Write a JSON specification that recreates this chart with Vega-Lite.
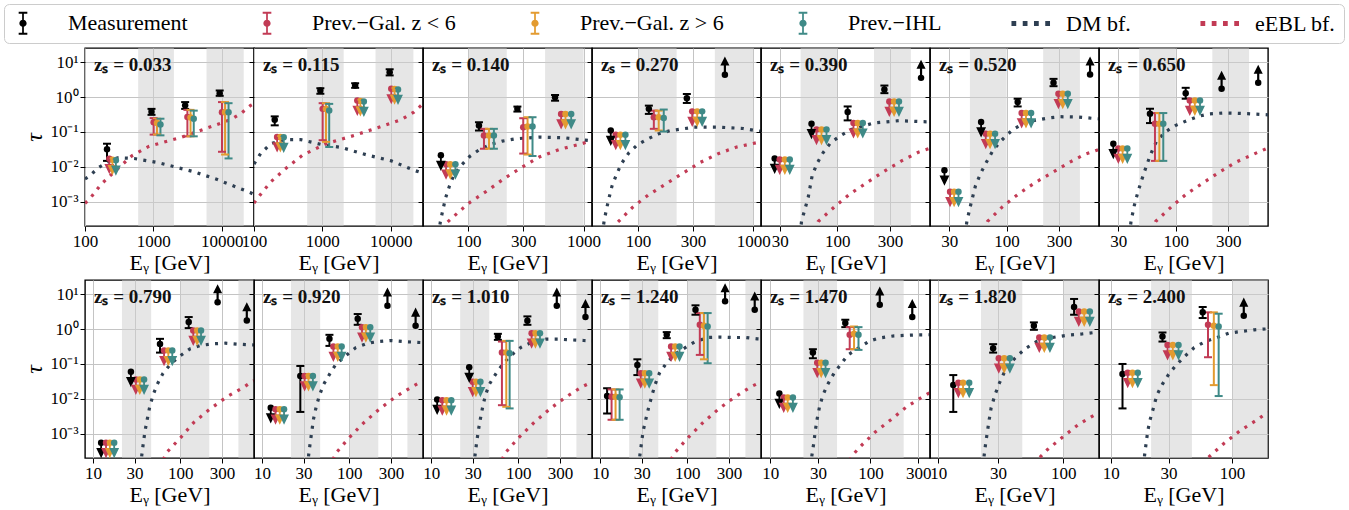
{
"$schema": "https://vega.github.io/schema/vega-lite/v6.json",
"background": "white",
"padding": {"left": 3, "top": 3, "right": 3, "bottom": 2},
"bounds": "flush",
"columns": 7,
"spacing": {"row": 54, "column": 0},
"data": {"values": [
{"p":1,"k":"b","E":600,"E2":2000},{"p":1,"k":"b","E":6000,"E2":21000},
{"p":1,"k":"c","s":"D","E":100,"t":0.0045},{"p":1,"k":"c","s":"D","E":116,"t":0.0054},{"p":1,"k":"c","s":"D","E":158,"t":0.0096},{"p":1,"k":"c","s":"D","E":240,"t":0.0155},{"p":1,"k":"c","s":"D","E":300,"t":0.0182},{"p":1,"k":"c","s":"D","E":525,"t":0.0173},{"p":1,"k":"c","s":"D","E":1150,"t":0.0133},{"p":1,"k":"c","s":"D","E":3950,"t":0.0072},{"p":1,"k":"c","s":"D","E":8650,"t":0.0043},{"p":1,"k":"c","s":"D","E":26500,"t":0.0018},{"p":1,"k":"c","s":"D","E":29700,"t":0.0016},
{"p":1,"k":"c","s":"B","E":100,"t":0.0009},{"p":1,"k":"c","s":"B","E":116,"t":0.00117},{"p":1,"k":"c","s":"B","E":171,"t":0.0031},{"p":1,"k":"c","s":"B","E":284,"t":0.008},{"p":1,"k":"c","s":"B","E":485,"t":0.0206},{"p":1,"k":"c","s":"B","E":869,"t":0.039},{"p":1,"k":"c","s":"B","E":2470,"t":0.069},{"p":1,"k":"c","s":"B","E":5830,"t":0.125},{"p":1,"k":"c","s":"B","E":13500,"t":0.225},{"p":1,"k":"c","s":"B","E":18900,"t":0.334},{"p":1,"k":"c","s":"B","E":26500,"t":0.578},{"p":1,"k":"c","s":"B","E":29700,"t":0.65},
{"p":1,"k":"m","s":"M","E":210,"t":0.032,"lo":0.0148,"hi":0.046},{"p":1,"k":"m","s":"R","E":227,"t":0.017,"lim":"u"},{"p":1,"k":"m","s":"O","E":252,"t":0.016,"lim":"u"},{"p":1,"k":"m","s":"T","E":283,"t":0.0155,"lim":"u"},
{"p":1,"k":"m","s":"M","E":940,"t":0.38,"lo":0.31,"hi":0.46},{"p":1,"k":"m","s":"R","E":1010,"t":0.19,"lo":0.084,"hi":0.25},{"p":1,"k":"m","s":"O","E":1130,"t":0.18,"lo":0.085,"hi":0.24},{"p":1,"k":"m","s":"T","E":1270,"t":0.165,"lo":0.08,"hi":0.24},
{"p":1,"k":"m","s":"M","E":2920,"t":0.58,"lo":0.46,"hi":0.72},{"p":1,"k":"m","s":"R","E":3150,"t":0.27,"lo":0.075,"hi":0.43},{"p":1,"k":"m","s":"O","E":3500,"t":0.26,"lo":0.075,"hi":0.43},{"p":1,"k":"m","s":"T","E":3900,"t":0.24,"lo":0.075,"hi":0.41},
{"p":1,"k":"m","s":"M","E":9350,"t":1.3,"lo":1.09,"hi":1.55},{"p":1,"k":"m","s":"R","E":10100,"t":0.37,"lo":0.027,"hi":0.72},{"p":1,"k":"m","s":"O","E":11200,"t":0.37,"lo":0.0225,"hi":0.72},{"p":1,"k":"m","s":"T","E":12600,"t":0.37,"lo":0.0174,"hi":0.67},
{"p":2,"k":"b","E":600,"E2":2050},{"p":2,"k":"b","E":6000,"E2":21500},
{"p":2,"k":"c","s":"D","E":100,"t":0.012},{"p":2,"k":"c","s":"D","E":125,"t":0.024},{"p":2,"k":"c","s":"D","E":176,"t":0.046},{"p":2,"k":"c","s":"D","E":276,"t":0.06},{"p":2,"k":"c","s":"D","E":485,"t":0.06},{"p":2,"k":"c","s":"D","E":955,"t":0.044},{"p":2,"k":"c","s":"D","E":1880,"t":0.036},{"p":2,"k":"c","s":"D","E":4640,"t":0.0215},{"p":2,"k":"c","s":"D","E":10200,"t":0.0148},{"p":2,"k":"c","s":"D","E":21800,"t":0.008},{"p":2,"k":"c","s":"D","E":29700,"t":0.0065},
{"p":2,"k":"c","s":"B","E":100,"t":0.0009},{"p":2,"k":"c","s":"B","E":109,"t":0.00117},{"p":2,"k":"c","s":"B","E":176,"t":0.0037},{"p":2,"k":"c","s":"B","E":292,"t":0.009},{"p":2,"k":"c","s":"B","E":514,"t":0.0216},{"p":2,"k":"c","s":"B","E":1130,"t":0.046},{"p":2,"k":"c","s":"B","E":2960,"t":0.08},{"p":2,"k":"c","s":"B","E":8150,"t":0.155},{"p":2,"k":"c","s":"B","E":14300,"t":0.225},{"p":2,"k":"c","s":"B","E":21800,"t":0.37},{"p":2,"k":"c","s":"B","E":29700,"t":0.645},
{"p":2,"k":"m","s":"M","E":201,"t":0.225,"lo":0.155,"hi":0.28},{"p":2,"k":"m","s":"R","E":218,"t":0.072,"lim":"u"},{"p":2,"k":"m","s":"O","E":243,"t":0.072,"lim":"u"},{"p":2,"k":"m","s":"T","E":272,"t":0.07,"lim":"u"},
{"p":2,"k":"m","s":"M","E":935,"t":1.55,"lo":1.25,"hi":1.8},{"p":2,"k":"m","s":"R","E":1010,"t":0.46,"lo":0.058,"hi":0.67},{"p":2,"k":"m","s":"O","E":1130,"t":0.46,"lo":0.052,"hi":0.67},{"p":2,"k":"m","s":"T","E":1260,"t":0.415,"lo":0.037,"hi":0.64},
{"p":2,"k":"m","s":"M","E":3020,"t":2.15,"lo":1.85,"hi":2.5},{"p":2,"k":"m","s":"R","E":3250,"t":0.8,"lim":"u"},{"p":2,"k":"m","s":"O","E":3600,"t":0.78,"lim":"u"},{"p":2,"k":"m","s":"T","E":4050,"t":0.75,"lim":"u"},
{"p":2,"k":"m","s":"M","E":9660,"t":5.2,"lo":4.2,"hi":6.3},{"p":2,"k":"m","s":"R","E":10200,"t":1.73,"lim":"u"},{"p":2,"k":"m","s":"O","E":11400,"t":1.7,"lim":"u"},{"p":2,"k":"m","s":"T","E":12800,"t":1.65,"lim":"u"},
{"p":3,"k":"b","E":100,"E2":216},{"p":3,"k":"b","E":464,"E2":1000},
{"p":3,"k":"c","s":"D","E":55.5,"t":0.00012},{"p":3,"k":"c","s":"D","E":57.4,"t":0.000265},{"p":3,"k":"c","s":"D","E":60.5,"t":0.0006},{"p":3,"k":"c","s":"D","E":63.8,"t":0.0013},{"p":3,"k":"c","s":"D","E":68.7,"t":0.00277},{"p":3,"k":"c","s":"D","E":75,"t":0.0057},{"p":3,"k":"c","s":"D","E":86.9,"t":0.011},{"p":3,"k":"c","s":"D","E":103.4,"t":0.02},{"p":3,"k":"c","s":"D","E":126,"t":0.0316},{"p":3,"k":"c","s":"D","E":157,"t":0.044},{"p":3,"k":"c","s":"D","E":198,"t":0.0547},{"p":3,"k":"c","s":"D","E":259,"t":0.0638},{"p":3,"k":"c","s":"D","E":413,"t":0.0711},{"p":3,"k":"c","s":"D","E":683,"t":0.068},{"p":3,"k":"c","s":"D","E":1090,"t":0.0572},{"p":3,"k":"c","s":"D","E":1183,"t":0.055},
{"p":3,"k":"c","s":"B","E":62,"t":0.00015},{"p":3,"k":"c","s":"B","E":65.6,"t":0.000254},{"p":3,"k":"c","s":"B","E":89.8,"t":0.00064},{"p":3,"k":"c","s":"B","E":105,"t":0.00099},{"p":3,"k":"c","s":"B","E":146,"t":0.00204},{"p":3,"k":"c","s":"B","E":205,"t":0.0046},{"p":3,"k":"c","s":"B","E":286,"t":0.0093},{"p":3,"k":"c","s":"B","E":413,"t":0.0191},{"p":3,"k":"c","s":"B","E":618,"t":0.0316},{"p":3,"k":"c","s":"B","E":893,"t":0.043},{"p":3,"k":"c","s":"B","E":1183,"t":0.056},
{"p":3,"k":"m","s":"M","E":58,"t":0.0213,"lim":"u"},{"p":3,"k":"m","s":"R","E":64.3,"t":0.0118,"lim":"u"},{"p":3,"k":"m","s":"O","E":70,"t":0.0118,"lim":"u"},{"p":3,"k":"m","s":"T","E":77.5,"t":0.0118,"lim":"u"},
{"p":3,"k":"m","s":"M","E":124,"t":0.153,"lo":0.11,"hi":0.19},{"p":3,"k":"m","s":"R","E":137,"t":0.079,"lo":0.033,"hi":0.123},{"p":3,"k":"m","s":"O","E":151.5,"t":0.079,"lo":0.033,"hi":0.123},{"p":3,"k":"m","s":"T","E":167,"t":0.079,"lo":0.033,"hi":0.123},
{"p":3,"k":"m","s":"M","E":267,"t":0.46,"lo":0.385,"hi":0.535},{"p":3,"k":"m","s":"R","E":300,"t":0.137,"lo":0.024,"hi":0.248},{"p":3,"k":"m","s":"O","E":327,"t":0.143,"lo":0.0225,"hi":0.265},{"p":3,"k":"m","s":"T","E":361,"t":0.143,"lo":0.0204,"hi":0.265},
{"p":3,"k":"m","s":"M","E":566,"t":0.99,"lo":0.79,"hi":1.15},{"p":3,"k":"m","s":"R","E":639,"t":0.33,"lim":"u"},{"p":3,"k":"m","s":"O","E":697,"t":0.33,"lim":"u"},{"p":3,"k":"m","s":"T","E":781,"t":0.33,"lim":"u"},
{"p":4,"k":"b","E":100,"E2":216},{"p":4,"k":"b","E":464,"E2":1000},
{"p":4,"k":"c","s":"D","E":49,"t":0.00012},{"p":4,"k":"c","s":"D","E":50.6,"t":0.000265},{"p":4,"k":"c","s":"D","E":53.1,"t":0.0006},{"p":4,"k":"c","s":"D","E":56,"t":0.0013},{"p":4,"k":"c","s":"D","E":59.4,"t":0.00283},{"p":4,"k":"c","s":"D","E":64.9,"t":0.006},{"p":4,"k":"c","s":"D","E":71.6,"t":0.0123},{"p":4,"k":"c","s":"D","E":82.9,"t":0.0248},{"p":4,"k":"c","s":"D","E":98.7,"t":0.043},{"p":4,"k":"c","s":"D","E":122,"t":0.0638},{"p":4,"k":"c","s":"D","E":151,"t":0.0887},{"p":4,"k":"c","s":"D","E":192,"t":0.11},{"p":4,"k":"c","s":"D","E":307,"t":0.137},{"p":4,"k":"c","s":"D","E":506,"t":0.137},{"p":4,"k":"c","s":"D","E":818,"t":0.126},{"p":4,"k":"c","s":"D","E":1033,"t":0.11},{"p":4,"k":"c","s":"D","E":1167,"t":0.105},
{"p":4,"k":"c","s":"B","E":62,"t":0.00015},{"p":4,"k":"c","s":"B","E":66.1,"t":0.00025},{"p":4,"k":"c","s":"B","E":89.3,"t":0.00068},{"p":4,"k":"c","s":"B","E":122,"t":0.00153},{"p":4,"k":"c","s":"B","E":171,"t":0.0031},{"p":4,"k":"c","s":"B","E":242,"t":0.0064},{"p":4,"k":"c","s":"B","E":344,"t":0.0132},{"p":4,"k":"c","s":"B","E":496,"t":0.0238},{"p":4,"k":"c","s":"B","E":717,"t":0.0369},{"p":4,"k":"c","s":"B","E":1069,"t":0.049},{"p":4,"k":"c","s":"B","E":1167,"t":0.053},
{"p":4,"k":"m","s":"M","E":57.9,"t":0.11,"lim":"u"},{"p":4,"k":"m","s":"R","E":64,"t":0.083,"lim":"u"},{"p":4,"k":"m","s":"O","E":70.2,"t":0.083,"lim":"u"},{"p":4,"k":"m","s":"T","E":77.6,"t":0.083,"lim":"u"},
{"p":4,"k":"m","s":"M","E":124,"t":0.46,"lo":0.33,"hi":0.57},{"p":4,"k":"m","s":"R","E":137,"t":0.265,"lo":0.123,"hi":0.41},{"p":4,"k":"m","s":"O","E":151,"t":0.265,"lo":0.11,"hi":0.41},{"p":4,"k":"m","s":"T","E":167,"t":0.25,"lo":0.103,"hi":0.44},
{"p":4,"k":"m","s":"M","E":265,"t":0.926,"lo":0.68,"hi":1.23},{"p":4,"k":"m","s":"R","E":295,"t":0.39,"lim":"u"},{"p":4,"k":"m","s":"O","E":326,"t":0.39,"lim":"u"},{"p":4,"k":"m","s":"T","E":360,"t":0.39,"lim":"u"},
{"p":4,"k":"m","s":"M","E":567,"t":4.4,"lim":"l"},
{"p":5,"k":"b","E":46.4,"E2":100},{"p":5,"k":"b","E":215,"E2":464},
{"p":5,"k":"c","s":"D","E":46,"t":0.00012},{"p":5,"k":"c","s":"D","E":47.3,"t":0.00027},{"p":5,"k":"c","s":"D","E":54.4,"t":0.00133},{"p":5,"k":"c","s":"D","E":59.2,"t":0.00578},{"p":5,"k":"c","s":"D","E":66.1,"t":0.0133},{"p":5,"k":"c","s":"D","E":74.4,"t":0.0257},{"p":5,"k":"c","s":"D","E":87.3,"t":0.0496},{"p":5,"k":"c","s":"D","E":108,"t":0.08},{"p":5,"k":"c","s":"D","E":133,"t":0.117},{"p":5,"k":"c","s":"D","E":212,"t":0.18},{"p":5,"k":"c","s":"D","E":362,"t":0.211},{"p":5,"k":"c","s":"D","E":604,"t":0.197},{"p":5,"k":"c","s":"D","E":692,"t":0.195},
{"p":5,"k":"c","s":"B","E":62,"t":0.00015},{"p":5,"k":"c","s":"B","E":67,"t":0.00027},{"p":5,"k":"c","s":"B","E":94.8,"t":0.00072},{"p":5,"k":"c","s":"B","E":130,"t":0.00166},{"p":5,"k":"c","s":"B","E":185,"t":0.0035},{"p":5,"k":"c","s":"B","E":261,"t":0.0072},{"p":5,"k":"c","s":"B","E":378,"t":0.0145},{"p":5,"k":"c","s":"B","E":551,"t":0.0268},{"p":5,"k":"c","s":"B","E":692,"t":0.034},
{"p":5,"k":"m","s":"M","E":27,"t":0.0173,"lim":"u"},{"p":5,"k":"m","s":"R","E":30,"t":0.0162,"lim":"u"},{"p":5,"k":"m","s":"O","E":33.4,"t":0.0162,"lim":"u"},{"p":5,"k":"m","s":"T","E":37,"t":0.0162,"lim":"u"},
{"p":5,"k":"m","s":"M","E":58.3,"t":0.173,"lim":"u"},{"p":5,"k":"m","s":"R","E":64.7,"t":0.117,"lim":"u"},{"p":5,"k":"m","s":"O","E":71.8,"t":0.117,"lim":"u"},{"p":5,"k":"m","s":"T","E":79.7,"t":0.117,"lim":"u"},
{"p":5,"k":"m","s":"M","E":124,"t":0.373,"lo":0.215,"hi":0.54},{"p":5,"k":"m","s":"R","E":140,"t":0.18,"lim":"u"},{"p":5,"k":"m","s":"O","E":153,"t":0.18,"lim":"u"},{"p":5,"k":"m","s":"T","E":170,"t":0.18,"lim":"u"},
{"p":5,"k":"m","s":"M","E":267,"t":1.66,"lo":1.3,"hi":2.15},{"p":5,"k":"m","s":"R","E":296,"t":0.75,"lim":"u"},{"p":5,"k":"m","s":"O","E":327,"t":0.75,"lim":"u"},{"p":5,"k":"m","s":"T","E":362,"t":0.75,"lim":"u"},
{"p":5,"k":"m","s":"M","E":574,"t":3.57,"lim":"l"},
{"p":6,"k":"b","E":46.4,"E2":100},{"p":6,"k":"b","E":215,"E2":464},
{"p":6,"k":"c","s":"D","E":42,"t":0.00012},{"p":6,"k":"c","s":"D","E":43.5,"t":0.00027},{"p":6,"k":"c","s":"D","E":47.5,"t":0.0009},{"p":6,"k":"c","s":"D","E":52,"t":0.0028},{"p":6,"k":"c","s":"D","E":58,"t":0.0065},{"p":6,"k":"c","s":"D","E":65,"t":0.013},{"p":6,"k":"c","s":"D","E":74,"t":0.027},{"p":6,"k":"c","s":"D","E":86,"t":0.05},{"p":6,"k":"c","s":"D","E":100,"t":0.08},{"p":6,"k":"c","s":"D","E":115,"t":0.12},{"p":6,"k":"c","s":"D","E":140,"t":0.17},{"p":6,"k":"c","s":"D","E":175,"t":0.21},{"p":6,"k":"c","s":"D","E":237,"t":0.251},{"p":6,"k":"c","s":"D","E":306,"t":0.274},{"p":6,"k":"c","s":"D","E":450,"t":0.268},{"p":6,"k":"c","s":"D","E":661,"t":0.24},{"p":6,"k":"c","s":"D","E":692,"t":0.238},
{"p":6,"k":"c","s":"B","E":62,"t":0.00015},{"p":6,"k":"c","s":"B","E":67,"t":0.00027},{"p":6,"k":"c","s":"B","E":92,"t":0.00072},{"p":6,"k":"c","s":"B","E":128,"t":0.00166},{"p":6,"k":"c","s":"B","E":181,"t":0.0035},{"p":6,"k":"c","s":"B","E":257,"t":0.0067},{"p":6,"k":"c","s":"B","E":365,"t":0.013},{"p":6,"k":"c","s":"B","E":517,"t":0.023},{"p":6,"k":"c","s":"B","E":661,"t":0.03},{"p":6,"k":"c","s":"B","E":692,"t":0.032},
{"p":6,"k":"m","s":"M","E":27.2,"t":0.008,"lim":"u"},{"p":6,"k":"m","s":"R","E":30.6,"t":0.00193,"lim":"u"},{"p":6,"k":"m","s":"O","E":33.3,"t":0.00193,"lim":"u"},{"p":6,"k":"m","s":"T","E":36.5,"t":0.00193,"lim":"u"},
{"p":6,"k":"m","s":"M","E":58.6,"t":0.193,"lim":"u"},{"p":6,"k":"m","s":"R","E":64.6,"t":0.0896,"lim":"u"},{"p":6,"k":"m","s":"O","E":70.7,"t":0.0896,"lim":"u"},{"p":6,"k":"m","s":"T","E":78.5,"t":0.0896,"lim":"u"},
{"p":6,"k":"m","s":"M","E":126,"t":0.72,"lo":0.54,"hi":0.9},{"p":6,"k":"m","s":"R","E":137,"t":0.35,"lim":"u"},{"p":6,"k":"m","s":"O","E":150,"t":0.35,"lim":"u"},{"p":6,"k":"m","s":"T","E":167,"t":0.35,"lim":"u"},
{"p":6,"k":"m","s":"M","E":267,"t":2.57,"lo":2.06,"hi":3.34},{"p":6,"k":"m","s":"R","E":296,"t":1.245,"lim":"u"},{"p":6,"k":"m","s":"O","E":324,"t":1.245,"lim":"u"},{"p":6,"k":"m","s":"T","E":360,"t":1.245,"lim":"u"},
{"p":6,"k":"m","s":"M","E":574,"t":4.44,"lim":"l"},
{"p":7,"k":"b","E":46.4,"E2":100},{"p":7,"k":"b","E":215,"E2":464},
{"p":7,"k":"c","s":"D","E":38,"t":0.00012},{"p":7,"k":"c","s":"D","E":39.1,"t":0.00027},{"p":7,"k":"c","s":"D","E":42,"t":0.0008},{"p":7,"k":"c","s":"D","E":45,"t":0.0018},{"p":7,"k":"c","s":"D","E":48,"t":0.0035},{"p":7,"k":"c","s":"D","E":52,"t":0.0075},{"p":7,"k":"c","s":"D","E":57,"t":0.017},{"p":7,"k":"c","s":"D","E":62,"t":0.033},{"p":7,"k":"c","s":"D","E":67,"t":0.055},{"p":7,"k":"c","s":"D","E":80,"t":0.1},{"p":7,"k":"c","s":"D","E":100,"t":0.155},{"p":7,"k":"c","s":"D","E":130,"t":0.22},{"p":7,"k":"c","s":"D","E":160,"t":0.28},{"p":7,"k":"c","s":"D","E":200,"t":0.33},{"p":7,"k":"c","s":"D","E":267,"t":0.35},{"p":7,"k":"c","s":"D","E":350,"t":0.345},{"p":7,"k":"c","s":"D","E":450,"t":0.334},{"p":7,"k":"c","s":"D","E":690,"t":0.31},
{"p":7,"k":"c","s":"B","E":60,"t":0.00015},{"p":7,"k":"c","s":"B","E":65.5,"t":0.00027},{"p":7,"k":"c","s":"B","E":91.6,"t":0.00072},{"p":7,"k":"c","s":"B","E":125,"t":0.00166},{"p":7,"k":"c","s":"B","E":178,"t":0.0035},{"p":7,"k":"c","s":"B","E":252,"t":0.0072},{"p":7,"k":"c","s":"B","E":357,"t":0.0139},{"p":7,"k":"c","s":"B","E":543,"t":0.0251},{"p":7,"k":"c","s":"B","E":670,"t":0.0334},{"p":7,"k":"c","s":"B","E":690,"t":0.035},
{"p":7,"k":"m","s":"M","E":27,"t":0.046,"lim":"u"},{"p":7,"k":"m","s":"R","E":30,"t":0.0334,"lim":"u"},{"p":7,"k":"m","s":"O","E":32.8,"t":0.0334,"lim":"u"},{"p":7,"k":"m","s":"T","E":36.2,"t":0.0334,"lim":"u"},
{"p":7,"k":"m","s":"M","E":58.2,"t":0.334,"lo":0.18,"hi":0.464},{"p":7,"k":"m","s":"R","E":64.6,"t":0.173,"lo":0.0148,"hi":0.349},{"p":7,"k":"m","s":"O","E":70.8,"t":0.173,"lo":0.0148,"hi":0.349},{"p":7,"k":"m","s":"T","E":76.9,"t":0.173,"lo":0.0148,"hi":0.349},
{"p":7,"k":"m","s":"M","E":123,"t":1.3,"lo":0.9,"hi":1.85},{"p":7,"k":"m","s":"R","E":134,"t":0.8,"lim":"u"},{"p":7,"k":"m","s":"O","E":149,"t":0.8,"lim":"u"},{"p":7,"k":"m","s":"T","E":166,"t":0.8,"lim":"u"},
{"p":7,"k":"m","s":"M","E":261,"t":1.73,"lim":"l"},{"p":7,"k":"m","s":"M","E":562,"t":2.57,"lim":"l"},
{"p":8,"k":"b","E":21.5,"E2":46.4},{"p":8,"k":"b","E":100,"E2":215},{"p":8,"k":"b","E":464,"E2":1000},
{"p":8,"k":"c","s":"D","E":35.5,"t":0.00012},{"p":8,"k":"c","s":"D","E":36.2,"t":0.000237},{"p":8,"k":"c","s":"D","E":37.8,"t":0.00055},{"p":8,"k":"c","s":"D","E":39.5,"t":0.0012},{"p":8,"k":"c","s":"D","E":42,"t":0.0027},{"p":8,"k":"c","s":"D","E":44.7,"t":0.0059},{"p":8,"k":"c","s":"D","E":48.8,"t":0.0128},{"p":8,"k":"c","s":"D","E":54.7,"t":0.0265},{"p":8,"k":"c","s":"D","E":63.4,"t":0.0538},{"p":8,"k":"c","s":"D","E":77.6,"t":0.1},{"p":8,"k":"c","s":"D","E":101,"t":0.174},{"p":8,"k":"c","s":"D","E":129,"t":0.271},{"p":8,"k":"c","s":"D","E":170,"t":0.338},{"p":8,"k":"c","s":"D","E":235,"t":0.378},{"p":8,"k":"c","s":"D","E":328,"t":0.395},{"p":8,"k":"c","s":"D","E":453,"t":0.37},{"p":8,"k":"c","s":"D","E":631,"t":0.353},{"p":8,"k":"c","s":"D","E":700,"t":0.35},
{"p":8,"k":"c","s":"B","E":64,"t":0.00018},{"p":8,"k":"c","s":"B","E":69.2,"t":0.00028},{"p":8,"k":"c","s":"B","E":101,"t":0.00077},{"p":8,"k":"c","s":"B","E":143,"t":0.0021},{"p":8,"k":"c","s":"B","E":217,"t":0.005},{"p":8,"k":"c","s":"B","E":342,"t":0.0114},{"p":8,"k":"c","s":"B","E":530,"t":0.0212},{"p":8,"k":"c","s":"B","E":659,"t":0.031},{"p":8,"k":"c","s":"B","E":700,"t":0.033},
{"p":8,"k":"m","s":"M","E":12.4,"t":0.00055,"lim":"u"},{"p":8,"k":"m","s":"R","E":14.1,"t":0.00055,"lim":"u"},{"p":8,"k":"m","s":"O","E":15.6,"t":0.00055,"lim":"u"},{"p":8,"k":"m","s":"T","E":17.5,"t":0.00055,"lim":"u"},
{"p":8,"k":"m","s":"M","E":27.2,"t":0.06,"lim":"u"},{"p":8,"k":"m","s":"R","E":31,"t":0.036,"lim":"u"},{"p":8,"k":"m","s":"O","E":34.4,"t":0.036,"lim":"u"},{"p":8,"k":"m","s":"T","E":38.5,"t":0.036,"lim":"u"},
{"p":8,"k":"m","s":"M","E":58.6,"t":0.377,"lo":0.212,"hi":0.526},{"p":8,"k":"m","s":"R","E":65.2,"t":0.242,"lim":"u"},{"p":8,"k":"m","s":"O","E":73,"t":0.242,"lim":"u"},{"p":8,"k":"m","s":"T","E":81,"t":0.242,"lim":"u"},
{"p":8,"k":"m","s":"M","E":125,"t":1.59,"lo":1.07,"hi":2.22},{"p":8,"k":"m","s":"R","E":141,"t":0.915,"lim":"u"},{"p":8,"k":"m","s":"O","E":156,"t":0.915,"lim":"u"},{"p":8,"k":"m","s":"T","E":173,"t":0.915,"lim":"u"},
{"p":8,"k":"m","s":"M","E":268,"t":5.88,"lim":"l"},{"p":8,"k":"m","s":"M","E":579,"t":1.78,"lim":"l"},
{"p":9,"k":"b","E":21.5,"E2":46.4},{"p":9,"k":"b","E":100,"E2":215},{"p":9,"k":"b","E":464,"E2":1000},
{"p":9,"k":"c","s":"D","E":33.5,"t":0.00012},{"p":9,"k":"c","s":"D","E":34.2,"t":0.000237},{"p":9,"k":"c","s":"D","E":35.7,"t":0.00055},{"p":9,"k":"c","s":"D","E":37.3,"t":0.0012},{"p":9,"k":"c","s":"D","E":38.9,"t":0.0026},{"p":9,"k":"c","s":"D","E":41.8,"t":0.0059},{"p":9,"k":"c","s":"D","E":45.6,"t":0.0128},{"p":9,"k":"c","s":"D","E":51.1,"t":0.0265},{"p":9,"k":"c","s":"D","E":60.3,"t":0.0538},{"p":9,"k":"c","s":"D","E":70.6,"t":0.1},{"p":9,"k":"c","s":"D","E":91.8,"t":0.174},{"p":9,"k":"c","s":"D","E":119,"t":0.296},{"p":9,"k":"c","s":"D","E":162,"t":0.395},{"p":9,"k":"c","s":"D","E":220,"t":0.44},{"p":9,"k":"c","s":"D","E":299,"t":0.471},{"p":9,"k":"c","s":"D","E":416,"t":0.44},{"p":9,"k":"c","s":"D","E":575,"t":0.42},{"p":9,"k":"c","s":"D","E":700,"t":0.41},
{"p":9,"k":"c","s":"B","E":65,"t":0.00018},{"p":9,"k":"c","s":"B","E":70.6,"t":0.00028},{"p":9,"k":"c","s":"B","E":100,"t":0.00077},{"p":9,"k":"c","s":"B","E":148,"t":0.0021},{"p":9,"k":"c","s":"B","E":220,"t":0.005},{"p":9,"k":"c","s":"B","E":340,"t":0.0114},{"p":9,"k":"c","s":"B","E":541,"t":0.0232},{"p":9,"k":"c","s":"B","E":667,"t":0.031},{"p":9,"k":"c","s":"B","E":700,"t":0.032},
{"p":9,"k":"m","s":"M","E":12.6,"t":0.0055,"lim":"u"},{"p":9,"k":"m","s":"R","E":14.3,"t":0.005,"lim":"u"},{"p":9,"k":"m","s":"O","E":16,"t":0.005,"lim":"u"},{"p":9,"k":"m","s":"T","E":17.9,"t":0.005,"lim":"u"},
{"p":9,"k":"m","s":"M","E":27.5,"t":0.045,"lo":0.0042,"hi":0.0876},{"p":9,"k":"m","s":"R","E":30.8,"t":0.045,"lim":"u"},{"p":9,"k":"m","s":"O","E":34.1,"t":0.045,"lim":"u"},{"p":9,"k":"m","s":"T","E":38.3,"t":0.045,"lim":"u"},
{"p":9,"k":"m","s":"M","E":59.3,"t":0.526,"lo":0.33,"hi":0.686},{"p":9,"k":"m","s":"R","E":65.8,"t":0.316,"lim":"u"},{"p":9,"k":"m","s":"O","E":73.8,"t":0.316,"lim":"u"},{"p":9,"k":"m","s":"T","E":81.8,"t":0.316,"lim":"u"},
{"p":9,"k":"m","s":"M","E":125,"t":1.99,"lo":1.33,"hi":2.71},{"p":9,"k":"m","s":"R","E":140,"t":1.14,"lim":"u"},{"p":9,"k":"m","s":"O","E":155,"t":1.14,"lim":"u"},{"p":9,"k":"m","s":"T","E":174,"t":1.14,"lim":"u"},
{"p":9,"k":"m","s":"M","E":274,"t":4.7,"lim":"l"},{"p":9,"k":"m","s":"M","E":576,"t":1.25,"lim":"l"},
{"p":10,"k":"b","E":21.5,"E2":46.4},{"p":10,"k":"b","E":100,"E2":215},{"p":10,"k":"b","E":464,"E2":1000},
{"p":10,"k":"c","s":"D","E":31,"t":0.00012},{"p":10,"k":"c","s":"D","E":31.8,"t":0.000237},{"p":10,"k":"c","s":"D","E":33.2,"t":0.00055},{"p":10,"k":"c","s":"D","E":34.7,"t":0.0012},{"p":10,"k":"c","s":"D","E":36.6,"t":0.0026},{"p":10,"k":"c","s":"D","E":39,"t":0.0059},{"p":10,"k":"c","s":"D","E":41.9,"t":0.0128},{"p":10,"k":"c","s":"D","E":46.6,"t":0.0265},{"p":10,"k":"c","s":"D","E":55.6,"t":0.0538},{"p":10,"k":"c","s":"D","E":66.5,"t":0.1},{"p":10,"k":"c","s":"D","E":81.6,"t":0.174},{"p":10,"k":"c","s":"D","E":108,"t":0.303},{"p":10,"k":"c","s":"D","E":148,"t":0.44},{"p":10,"k":"c","s":"D","E":206,"t":0.515},{"p":10,"k":"c","s":"D","E":289,"t":0.515},{"p":10,"k":"c","s":"D","E":406,"t":0.49},{"p":10,"k":"c","s":"D","E":564,"t":0.471},{"p":10,"k":"c","s":"D","E":700,"t":0.46},
{"p":10,"k":"c","s":"B","E":65,"t":0.00018},{"p":10,"k":"c","s":"B","E":70.7,"t":0.00028},{"p":10,"k":"c","s":"B","E":101,"t":0.00077},{"p":10,"k":"c","s":"B","E":152,"t":0.0021},{"p":10,"k":"c","s":"B","E":227,"t":0.005},{"p":10,"k":"c","s":"B","E":345,"t":0.0109},{"p":10,"k":"c","s":"B","E":539,"t":0.0222},{"p":10,"k":"c","s":"B","E":673,"t":0.029},{"p":10,"k":"c","s":"B","E":700,"t":0.031},
{"p":10,"k":"m","s":"M","E":11.7,"t":0.0096,"lim":"u"},{"p":10,"k":"m","s":"R","E":13.4,"t":0.0091,"lim":"u"},{"p":10,"k":"m","s":"O","E":15,"t":0.0091,"lim":"u"},{"p":10,"k":"m","s":"T","E":17,"t":0.0091,"lim":"u"},
{"p":10,"k":"m","s":"M","E":27.3,"t":0.08,"lim":"u"},{"p":10,"k":"m","s":"R","E":29.9,"t":0.031,"lim":"u"},{"p":10,"k":"m","s":"O","E":32.6,"t":0.031,"lim":"u"},{"p":10,"k":"m","s":"T","E":36.7,"t":0.031,"lim":"u"},
{"p":10,"k":"m","s":"M","E":58.2,"t":0.615,"lo":0.492,"hi":0.733},{"p":10,"k":"m","s":"R","E":64.8,"t":0.212,"lo":0.00656,"hi":0.44},{"p":10,"k":"m","s":"O","E":72.7,"t":0.212,"lo":0.0059,"hi":0.46},{"p":10,"k":"m","s":"T","E":79.4,"t":0.203,"lo":0.0053,"hi":0.46},
{"p":10,"k":"m","s":"M","E":127,"t":1.74,"lo":1.33,"hi":2.32},{"p":10,"k":"m","s":"R","E":142,"t":0.767,"lim":"u"},{"p":10,"k":"m","s":"O","E":157,"t":0.767,"lim":"u"},{"p":10,"k":"m","s":"T","E":177,"t":0.767,"lim":"u"},
{"p":10,"k":"m","s":"M","E":276,"t":4.7,"lim":"l"},{"p":10,"k":"m","s":"M","E":589,"t":2.22,"lim":"l"},
{"p":11,"k":"b","E":21.5,"E2":46.4},{"p":11,"k":"b","E":100,"E2":215},{"p":11,"k":"b","E":464,"E2":1000},
{"p":11,"k":"c","s":"D","E":28,"t":0.00012},{"p":11,"k":"c","s":"D","E":28.5,"t":0.000237},{"p":11,"k":"c","s":"D","E":29.8,"t":0.00055},{"p":11,"k":"c","s":"D","E":31.1,"t":0.0012},{"p":11,"k":"c","s":"D","E":33.4,"t":0.0026},{"p":11,"k":"c","s":"D","E":35.9,"t":0.0055},{"p":11,"k":"c","s":"D","E":39.3,"t":0.0128},{"p":11,"k":"c","s":"D","E":42.9,"t":0.0265},{"p":11,"k":"c","s":"D","E":47.7,"t":0.0538},{"p":11,"k":"c","s":"D","E":58,"t":0.109},{"p":11,"k":"c","s":"D","E":74.5,"t":0.203},{"p":11,"k":"c","s":"D","E":99,"t":0.316},{"p":11,"k":"c","s":"D","E":124,"t":0.44},{"p":11,"k":"c","s":"D","E":173,"t":0.575},{"p":11,"k":"c","s":"D","E":241,"t":0.588},{"p":11,"k":"c","s":"D","E":338,"t":0.575},{"p":11,"k":"c","s":"D","E":470,"t":0.575},{"p":11,"k":"c","s":"D","E":631,"t":0.526},{"p":11,"k":"c","s":"D","E":700,"t":0.52},
{"p":11,"k":"c","s":"B","E":65,"t":0.00018},{"p":11,"k":"c","s":"B","E":71.3,"t":0.00028},{"p":11,"k":"c","s":"B","E":102,"t":0.00077},{"p":11,"k":"c","s":"B","E":152,"t":0.0021},{"p":11,"k":"c","s":"B","E":226,"t":0.005},{"p":11,"k":"c","s":"B","E":344,"t":0.0109},{"p":11,"k":"c","s":"B","E":537,"t":0.0222},{"p":11,"k":"c","s":"B","E":671,"t":0.029},{"p":11,"k":"c","s":"B","E":700,"t":0.031},
{"p":11,"k":"m","s":"M","E":12,"t":0.012,"lo":0.0038,"hi":0.02},{"p":11,"k":"m","s":"R","E":13.5,"t":0.0114,"lo":0.0025,"hi":0.0186},{"p":11,"k":"m","s":"O","E":15,"t":0.0114,"lo":0.0025,"hi":0.0186},{"p":11,"k":"m","s":"T","E":16.7,"t":0.011,"lo":0.0025,"hi":0.0186},
{"p":11,"k":"m","s":"M","E":26.7,"t":0.0936,"lo":0.048,"hi":0.136},{"p":11,"k":"m","s":"R","E":29.2,"t":0.054,"lim":"u"},{"p":11,"k":"m","s":"O","E":32.5,"t":0.054,"lim":"u"},{"p":11,"k":"m","s":"T","E":36.5,"t":0.054,"lim":"u"},
{"p":11,"k":"m","s":"M","E":58,"t":0.686,"lo":0.55,"hi":0.82},{"p":11,"k":"m","s":"R","E":65.1,"t":0.316,"lim":"u"},{"p":11,"k":"m","s":"O","E":72.5,"t":0.316,"lim":"u"},{"p":11,"k":"m","s":"T","E":81.3,"t":0.316,"lim":"u"},
{"p":11,"k":"m","s":"M","E":124,"t":3.61,"lo":2.59,"hi":4.82},{"p":11,"k":"m","s":"R","E":139,"t":1.33,"lo":0.182,"hi":2.89},{"p":11,"k":"m","s":"O","E":155,"t":1.25,"lo":0.136,"hi":2.89},{"p":11,"k":"m","s":"T","E":171,"t":1.19,"lo":0.105,"hi":2.89},
{"p":11,"k":"m","s":"M","E":271,"t":6.28,"lim":"l"},{"p":11,"k":"m","s":"M","E":593,"t":3.61,"lim":"l"},
{"p":12,"k":"b","E":21.4,"E2":46.4},{"p":12,"k":"b","E":100,"E2":215},
{"p":12,"k":"c","s":"D","E":25.5,"t":0.00012},{"p":12,"k":"c","s":"D","E":26,"t":0.000237},{"p":12,"k":"c","s":"D","E":27.2,"t":0.00055},{"p":12,"k":"c","s":"D","E":28.1,"t":0.0012},{"p":12,"k":"c","s":"D","E":29.4,"t":0.0027},{"p":12,"k":"c","s":"D","E":31,"t":0.0059},{"p":12,"k":"c","s":"D","E":33.5,"t":0.0128},{"p":12,"k":"c","s":"D","E":37.6,"t":0.0265},{"p":12,"k":"c","s":"D","E":43.2,"t":0.0538},{"p":12,"k":"c","s":"D","E":52,"t":0.109},{"p":12,"k":"c","s":"D","E":59.7,"t":0.182},{"p":12,"k":"c","s":"D","E":78.2,"t":0.303},{"p":12,"k":"c","s":"D","E":98.4,"t":0.46},{"p":12,"k":"c","s":"D","E":124,"t":0.56},{"p":12,"k":"c","s":"D","E":173,"t":0.642},{"p":12,"k":"c","s":"D","E":305,"t":0.687},{"p":12,"k":"c","s":"D","E":394,"t":0.69},
{"p":12,"k":"c","s":"B","E":62,"t":0.00017},{"p":12,"k":"c","s":"B","E":67,"t":0.00025},{"p":12,"k":"c","s":"B","E":79.4,"t":0.00043},{"p":12,"k":"c","s":"B","E":112,"t":0.00112},{"p":12,"k":"c","s":"B","E":160,"t":0.0025},{"p":12,"k":"c","s":"B","E":230,"t":0.0059},{"p":12,"k":"c","s":"B","E":345,"t":0.0122},{"p":12,"k":"c","s":"B","E":394,"t":0.015},
{"p":12,"k":"m","s":"M","E":12.3,"t":0.0143,"lim":"u"},{"p":12,"k":"m","s":"R","E":13.6,"t":0.0109,"lim":"u"},{"p":12,"k":"m","s":"O","E":14.9,"t":0.0109,"lim":"u"},{"p":12,"k":"m","s":"T","E":16.8,"t":0.0109,"lim":"u"},
{"p":12,"k":"m","s":"M","E":26.6,"t":0.212,"lo":0.146,"hi":0.265},{"p":12,"k":"m","s":"R","E":29.4,"t":0.109,"lim":"u"},{"p":12,"k":"m","s":"O","E":32.2,"t":0.109,"lim":"u"},{"p":12,"k":"m","s":"T","E":35.6,"t":0.109,"lim":"u"},
{"p":12,"k":"m","s":"M","E":56.1,"t":1.49,"lo":1.14,"hi":1.86},{"p":12,"k":"m","s":"R","E":62.1,"t":0.686,"lo":0.265,"hi":1.14},{"p":12,"k":"m","s":"O","E":68.6,"t":0.733,"lo":0.265,"hi":1.19},{"p":12,"k":"m","s":"T","E":76,"t":0.686,"lo":0.253,"hi":1.14},
{"p":12,"k":"m","s":"M","E":124,"t":5.03,"lim":"l"},{"p":12,"k":"m","s":"M","E":262,"t":2.22,"lim":"l"},
{"p":13,"k":"b","E":22,"E2":47},{"p":13,"k":"b","E":100,"E2":1000},
{"p":13,"k":"c","s":"D","E":23,"t":0.00012},{"p":13,"k":"c","s":"D","E":23.3,"t":0.000237},{"p":13,"k":"c","s":"D","E":24,"t":0.00055},{"p":13,"k":"c","s":"D","E":24.8,"t":0.0012},{"p":13,"k":"c","s":"D","E":25.6,"t":0.0026},{"p":13,"k":"c","s":"D","E":26.5,"t":0.0055},{"p":13,"k":"c","s":"D","E":28.4,"t":0.0128},{"p":13,"k":"c","s":"D","E":30.6,"t":0.0265},{"p":13,"k":"c","s":"D","E":33.5,"t":0.0538},{"p":13,"k":"c","s":"D","E":37.9,"t":0.109},{"p":13,"k":"c","s":"D","E":43.1,"t":0.174},{"p":13,"k":"c","s":"D","E":50.3,"t":0.283},{"p":13,"k":"c","s":"D","E":61.2,"t":0.44},{"p":13,"k":"c","s":"D","E":75.9,"t":0.55},{"p":13,"k":"c","s":"D","E":92.3,"t":0.614},{"p":13,"k":"c","s":"D","E":115,"t":0.687},{"p":13,"k":"c","s":"D","E":142,"t":0.73},{"p":13,"k":"c","s":"D","E":179,"t":0.8},{"p":13,"k":"c","s":"D","E":193,"t":0.82},
{"p":13,"k":"c","s":"B","E":65,"t":0.00021},{"p":13,"k":"c","s":"B","E":74.5,"t":0.000345},{"p":13,"k":"c","s":"B","E":98.9,"t":0.0008},{"p":13,"k":"c","s":"B","E":133,"t":0.00186},{"p":13,"k":"c","s":"B","E":181,"t":0.0036},{"p":13,"k":"c","s":"B","E":193,"t":0.0041},
{"p":13,"k":"m","s":"M","E":13.2,"t":0.0248,"lo":0.0042,"hi":0.048},{"p":13,"k":"m","s":"R","E":14.5,"t":0.029,"lim":"u"},{"p":13,"k":"m","s":"O","E":15.8,"t":0.029,"lim":"u"},{"p":13,"k":"m","s":"T","E":17.7,"t":0.029,"lim":"u"},
{"p":13,"k":"m","s":"M","E":27.5,"t":0.283,"lo":0.212,"hi":0.37},{"p":13,"k":"m","s":"R","E":30.5,"t":0.146,"lim":"u"},{"p":13,"k":"m","s":"O","E":33.7,"t":0.146,"lim":"u"},{"p":13,"k":"m","s":"T","E":37.4,"t":0.146,"lim":"u"},
{"p":13,"k":"m","s":"M","E":58.2,"t":1.25,"lo":0.956,"hi":1.56},{"p":13,"k":"m","s":"R","E":64.3,"t":0.575,"lim":"u"},{"p":13,"k":"m","s":"O","E":70.5,"t":0.575,"lim":"u"},{"p":13,"k":"m","s":"T","E":78.2,"t":0.575,"lim":"u"},
{"p":13,"k":"m","s":"M","E":122,"t":4.31,"lo":2.59,"hi":7.34},{"p":13,"k":"m","s":"R","E":133,"t":3.23,"lim":"u"},{"p":13,"k":"m","s":"O","E":147,"t":3.23,"lim":"u"},{"p":13,"k":"m","s":"T","E":163,"t":3.23,"lim":"u"},
{"p":14,"k":"b","E":21.5,"E2":46.7},{"p":14,"k":"b","E":100,"E2":1000},
{"p":14,"k":"c","s":"D","E":18.7,"t":0.00012},{"p":14,"k":"c","s":"D","E":19,"t":0.000237},{"p":14,"k":"c","s":"D","E":19.6,"t":0.00055},{"p":14,"k":"c","s":"D","E":20.2,"t":0.0012},{"p":14,"k":"c","s":"D","E":21.1,"t":0.0025},{"p":14,"k":"c","s":"D","E":22.5,"t":0.0055},{"p":14,"k":"c","s":"D","E":24,"t":0.0128},{"p":14,"k":"c","s":"D","E":26.7,"t":0.0265},{"p":14,"k":"c","s":"D","E":30,"t":0.0504},{"p":14,"k":"c","s":"D","E":34.7,"t":0.094},{"p":14,"k":"c","s":"D","E":41.1,"t":0.17},{"p":14,"k":"c","s":"D","E":48.8,"t":0.296},{"p":14,"k":"c","s":"D","E":60.2,"t":0.44},{"p":14,"k":"c","s":"D","E":75.2,"t":0.575},{"p":14,"k":"c","s":"D","E":93.8,"t":0.767},{"p":14,"k":"c","s":"D","E":119,"t":0.857},{"p":14,"k":"c","s":"D","E":153,"t":0.956},{"p":14,"k":"c","s":"D","E":198,"t":1.02},
{"p":14,"k":"c","s":"B","E":64.1,"t":0.00021},{"p":14,"k":"c","s":"B","E":85.3,"t":0.000515},{"p":14,"k":"c","s":"B","E":116,"t":0.0012},{"p":14,"k":"c","s":"B","E":161,"t":0.0025},{"p":14,"k":"c","s":"B","E":191,"t":0.0038},{"p":14,"k":"c","s":"B","E":198,"t":0.0041},
{"p":14,"k":"m","s":"M","E":12.5,"t":0.0515,"lo":0.0053,"hi":0.1},{"p":14,"k":"m","s":"R","E":13.8,"t":0.056,"lim":"u"},{"p":14,"k":"m","s":"O","E":15.1,"t":0.056,"lim":"u"},{"p":14,"k":"m","s":"T","E":16.7,"t":0.056,"lim":"u"},
{"p":14,"k":"m","s":"M","E":26.7,"t":0.615,"lo":0.44,"hi":0.8},{"p":14,"k":"m","s":"R","E":29.4,"t":0.353,"lim":"u"},{"p":14,"k":"m","s":"O","E":32.5,"t":0.353,"lim":"u"},{"p":14,"k":"m","s":"T","E":36.2,"t":0.353,"lim":"u"},
{"p":14,"k":"m","s":"M","E":57.3,"t":3.03,"lo":2.08,"hi":4.31},{"p":14,"k":"m","s":"R","E":63.4,"t":1.33,"lo":0.156,"hi":3.03},{"p":14,"k":"m","s":"O","E":70.8,"t":1.25,"lo":0.0247,"hi":3.03},{"p":14,"k":"m","s":"T","E":77.6,"t":1.19,"lo":0.012,"hi":2.77},
{"p":14,"k":"m","s":"M","E":125,"t":2.42,"lim":"l"}
]},
"concat": [
{"width":169,"height":178,"title":{"text":"zₛ = 0.033"},"transform":[{"filter":"datum.p==1"}],
 "encoding":{"x":{"field":"E","type":"quantitative","scale":{"type":"log","domain":[100,29700],"nice":false},"axis":{"values":[100,1000,10000],"format":"d","title":"Eᵧ [GeV]","grid":true}}},
 "layer":[
  {"transform":[{"filter":"datum.k=='b'"}],"mark":{"type":"rect","clip":true,"fill":"#cdcdcd","opacity":0.5},"encoding":{"x2":{"field":"E2"}}},
  {"transform":[{"filter":"datum.k=='c'"}],"mark":{"type":"line","clip":true,"strokeWidth":3.2,"strokeDash":[3,6.3]},"encoding":{"y":{"field":"t","type":"quantitative","scale":{"type":"log","domain":[0.0002,25.7],"nice":false}},"color":{"field":"s","type":"nominal","scale":{"domain":["B","D","M","R","O","T"],"range":["#c23b55","#2e3f52","#000000","#c23b55","#e39b30","#3f8a87"]},"legend":null}}},
  {"transform":[{"filter":"datum.k=='m'&&isValid(datum.lo)"}],"mark":{"type":"rule","strokeWidth":2},"encoding":{"y":{"field":"lo","type":"quantitative","scale":{"type":"log","domain":[0.0002,25.7],"nice":false}},"y2":{"field":"hi"},"color":{"field":"s","type":"nominal","scale":{"domain":["B","D","M","R","O","T"],"range":["#c23b55","#2e3f52","#000000","#c23b55","#e39b30","#3f8a87"]},"legend":null}}},
  {"transform":[{"filter":"datum.k=='m'&&isValid(datum.lo)"}],"mark":{"type":"tick","orient":"horizontal","thickness":2,"size":8,"opacity":1},"encoding":{"y":{"field":"lo","type":"quantitative","scale":{"type":"log","domain":[0.0002,25.7],"nice":false}},"color":{"field":"s","type":"nominal","scale":{"domain":["B","D","M","R","O","T"],"range":["#c23b55","#2e3f52","#000000","#c23b55","#e39b30","#3f8a87"]},"legend":null}}},
  {"transform":[{"filter":"datum.k=='m'&&isValid(datum.lo)"}],"mark":{"type":"tick","orient":"horizontal","thickness":2,"size":8,"opacity":1},"encoding":{"y":{"field":"hi","type":"quantitative","scale":{"type":"log","domain":[0.0002,25.7],"nice":false}},"color":{"field":"s","type":"nominal","scale":{"domain":["B","D","M","R","O","T"],"range":["#c23b55","#2e3f52","#000000","#c23b55","#e39b30","#3f8a87"]},"legend":null}}},
  {"transform":[{"filter":"datum.k=='m'"}],"mark":{"type":"point","filled":true,"size":42,"opacity":1},"encoding":{"y":{"field":"t","type":"quantitative","scale":{"type":"log","domain":[0.0002,25.7],"nice":false},"axis":{"values":[0.001,0.01,0.1,1,10],"labelExpr":"datum.value>9?'10¹':datum.value>0.9?'10⁰':datum.value>0.09?'10⁻¹':datum.value>0.009?'10⁻²':'10⁻³'","title":"τ","titleFontStyle":"italic","titleFontSize":24,"grid":true}},"color":{"field":"s","type":"nominal","scale":{"domain":["B","D","M","R","O","T"],"range":["#c23b55","#2e3f52","#000000","#c23b55","#e39b30","#3f8a87"]},"legend":null}}},
  {"transform":[{"filter":"datum.lim=='u'"}],"mark":{"type":"point","filled":true,"opacity":1,"size":230,"shape":"M-0.12,0L0.12,0L0.12,0.7L0.65,0.7L0,2.05L-0.65,0.7L-0.12,0.7Z"},"encoding":{"y":{"field":"t","type":"quantitative","scale":{"type":"log","domain":[0.0002,25.7],"nice":false}},"color":{"field":"s","type":"nominal","scale":{"domain":["B","D","M","R","O","T"],"range":["#c23b55","#2e3f52","#000000","#c23b55","#e39b30","#3f8a87"]},"legend":null}}},
  {"transform":[{"filter":"datum.lim=='l'"}],"mark":{"type":"point","filled":true,"opacity":1,"size":330,"shape":"M-0.12,0L0.12,0L0.12,-1L0.5,-1L0,-2L-0.5,-1L-0.12,-1Z"},"encoding":{"y":{"field":"t","type":"quantitative","scale":{"type":"log","domain":[0.0002,25.7],"nice":false}},"color":{"field":"s","type":"nominal","scale":{"domain":["B","D","M","R","O","T"],"range":["#c23b55","#2e3f52","#000000","#c23b55","#e39b30","#3f8a87"]},"legend":null}}},
  {"transform":[{"filter":"false"}],"mark":{"type":"point","filled":true,"opacity":1,"size":300},"encoding":{"y":{"field":"t","type":"quantitative","scale":{"type":"log","domain":[0.0002,25.7],"nice":false}},
   "fill":{"field":"s","type":"nominal","scale":{"domain":["M","R","O","T","D","B"],"range":["#000000","#c23b55","#e39b30","#3f8a87","#2e3f52","#c23b55"]},
    "legend":{"title":null,"orient":"none","legendX":-81,"legendY":-44,"direction":"horizontal","columns":6,
     "labelExpr":"datum.value=='M'?'Measurement':datum.value=='R'?'Prev.−Gal. z < 6':datum.value=='O'?'Prev.−Gal. z > 6':datum.value=='T'?'Prev.−IHL':datum.value=='D'?'DM bf.':'eEBL bf.'",
     "labelFont":"Liberation Serif","labelFontSize":22,"labelColor":"#000000","labelLimit":400,"symbolSize":300,"labelOffset":34,"columnPadding":68,"padding":8,"strokeColor":"#cccccc","fillColor":"#ffffff","cornerRadius":5,"symbolOpacity":1,"symbolStrokeWidth":0}},
   "shape":{"field":"s","type":"nominal","scale":{"domain":["M","R","O","T","D","B"],"range":[
     "M-0.1,-1.25L0.1,-1.25L0.1,1.25L-0.1,1.25Z M-0.5,-1.32L0.5,-1.32L0.5,-1.1L-0.5,-1.1Z M-0.5,1.1L0.5,1.1L0.5,1.32L-0.5,1.32Z M0.42,0A0.42,0.42 0 1,1 -0.42,0A0.42,0.42 0 1,1 0.42,0Z",
     "M-0.1,-1.25L0.1,-1.25L0.1,1.25L-0.1,1.25Z M-0.5,-1.32L0.5,-1.32L0.5,-1.1L-0.5,-1.1Z M-0.5,1.1L0.5,1.1L0.5,1.32L-0.5,1.32Z M0.42,0A0.42,0.42 0 1,1 -0.42,0A0.42,0.42 0 1,1 0.42,0Z",
     "M-0.1,-1.25L0.1,-1.25L0.1,1.25L-0.1,1.25Z M-0.5,-1.32L0.5,-1.32L0.5,-1.1L-0.5,-1.1Z M-0.5,1.1L0.5,1.1L0.5,1.32L-0.5,1.32Z M0.42,0A0.42,0.42 0 1,1 -0.42,0A0.42,0.42 0 1,1 0.42,0Z",
     "M-0.1,-1.25L0.1,-1.25L0.1,1.25L-0.1,1.25Z M-0.5,-1.32L0.5,-1.32L0.5,-1.1L-0.5,-1.1Z M-0.5,1.1L0.5,1.1L0.5,1.32L-0.5,1.32Z M0.42,0A0.42,0.42 0 1,1 -0.42,0A0.42,0.42 0 1,1 0.42,0Z",
     "M-1.1,-0.28L-0.55,-0.28L-0.55,0.28L-1.1,0.28Z M0.2,-0.28L0.75,-0.28L0.75,0.28L0.2,0.28Z M1.5,-0.28L2.05,-0.28L2.05,0.28L1.5,0.28Z M2.8,-0.28L3.35,-0.28L3.35,0.28L2.8,0.28Z",
     "M-1.1,-0.28L-0.55,-0.28L-0.55,0.28L-1.1,0.28Z M0.2,-0.28L0.75,-0.28L0.75,0.28L0.2,0.28Z M1.5,-0.28L2.05,-0.28L2.05,0.28L1.5,0.28Z M2.8,-0.28L3.35,-0.28L3.35,0.28L2.8,0.28Z"]}}}}
 ]},
{"width":169,"height":178,"title":{"text":"zₛ = 0.115"},"transform":[{"filter":"datum.p==2"}],
 "encoding":{"x":{"field":"E","type":"quantitative","scale":{"type":"log","domain":[100,29700],"nice":false},"axis":{"values":[100,1000,10000],"format":"d","title":"Eᵧ [GeV]","grid":true}}},
 "layer":[
  {"transform":[{"filter":"datum.k=='b'"}],"mark":{"type":"rect","clip":true,"fill":"#cdcdcd","opacity":0.5},"encoding":{"x2":{"field":"E2"}}},
  {"transform":[{"filter":"datum.k=='c'"}],"mark":{"type":"line","clip":true,"strokeWidth":3.2,"strokeDash":[3,6.3]},"encoding":{"y":{"field":"t","type":"quantitative","scale":{"type":"log","domain":[0.0002,25.7],"nice":false}},"color":{"field":"s","type":"nominal","scale":{"domain":["B","D","M","R","O","T"],"range":["#c23b55","#2e3f52","#000000","#c23b55","#e39b30","#3f8a87"]},"legend":null}}},
  {"transform":[{"filter":"datum.k=='m'&&isValid(datum.lo)"}],"mark":{"type":"rule","strokeWidth":2},"encoding":{"y":{"field":"lo","type":"quantitative","scale":{"type":"log","domain":[0.0002,25.7],"nice":false}},"y2":{"field":"hi"},"color":{"field":"s","type":"nominal","scale":{"domain":["B","D","M","R","O","T"],"range":["#c23b55","#2e3f52","#000000","#c23b55","#e39b30","#3f8a87"]},"legend":null}}},
  {"transform":[{"filter":"datum.k=='m'&&isValid(datum.lo)"}],"mark":{"type":"tick","orient":"horizontal","thickness":2,"size":8,"opacity":1},"encoding":{"y":{"field":"lo","type":"quantitative","scale":{"type":"log","domain":[0.0002,25.7],"nice":false}},"color":{"field":"s","type":"nominal","scale":{"domain":["B","D","M","R","O","T"],"range":["#c23b55","#2e3f52","#000000","#c23b55","#e39b30","#3f8a87"]},"legend":null}}},
  {"transform":[{"filter":"datum.k=='m'&&isValid(datum.lo)"}],"mark":{"type":"tick","orient":"horizontal","thickness":2,"size":8,"opacity":1},"encoding":{"y":{"field":"hi","type":"quantitative","scale":{"type":"log","domain":[0.0002,25.7],"nice":false}},"color":{"field":"s","type":"nominal","scale":{"domain":["B","D","M","R","O","T"],"range":["#c23b55","#2e3f52","#000000","#c23b55","#e39b30","#3f8a87"]},"legend":null}}},
  {"transform":[{"filter":"datum.k=='m'"}],"mark":{"type":"point","filled":true,"size":42,"opacity":1},"encoding":{"y":{"field":"t","type":"quantitative","scale":{"type":"log","domain":[0.0002,25.7],"nice":false},"axis":{"values":[0.001,0.01,0.1,1,10],"labels":false,"title":null,"grid":true}},"color":{"field":"s","type":"nominal","scale":{"domain":["B","D","M","R","O","T"],"range":["#c23b55","#2e3f52","#000000","#c23b55","#e39b30","#3f8a87"]},"legend":null}}},
  {"transform":[{"filter":"datum.lim=='u'"}],"mark":{"type":"point","filled":true,"opacity":1,"size":230,"shape":"M-0.12,0L0.12,0L0.12,0.7L0.65,0.7L0,2.05L-0.65,0.7L-0.12,0.7Z"},"encoding":{"y":{"field":"t","type":"quantitative","scale":{"type":"log","domain":[0.0002,25.7],"nice":false}},"color":{"field":"s","type":"nominal","scale":{"domain":["B","D","M","R","O","T"],"range":["#c23b55","#2e3f52","#000000","#c23b55","#e39b30","#3f8a87"]},"legend":null}}},
  {"transform":[{"filter":"datum.lim=='l'"}],"mark":{"type":"point","filled":true,"opacity":1,"size":330,"shape":"M-0.12,0L0.12,0L0.12,-1L0.5,-1L0,-2L-0.5,-1L-0.12,-1Z"},"encoding":{"y":{"field":"t","type":"quantitative","scale":{"type":"log","domain":[0.0002,25.7],"nice":false}},"color":{"field":"s","type":"nominal","scale":{"domain":["B","D","M","R","O","T"],"range":["#c23b55","#2e3f52","#000000","#c23b55","#e39b30","#3f8a87"]},"legend":null}}}
 ]},
{"width":169,"height":178,"title":{"text":"zₛ = 0.140"},"transform":[{"filter":"datum.p==3"}],
 "encoding":{"x":{"field":"E","type":"quantitative","scale":{"type":"log","domain":[40.6,1183],"nice":false},"axis":{"values":[100,300,1000],"format":"d","title":"Eᵧ [GeV]","grid":true}}},
 "layer":[
  {"transform":[{"filter":"datum.k=='b'"}],"mark":{"type":"rect","clip":true,"fill":"#cdcdcd","opacity":0.5},"encoding":{"x2":{"field":"E2"}}},
  {"transform":[{"filter":"datum.k=='c'"}],"mark":{"type":"line","clip":true,"strokeWidth":3.2,"strokeDash":[3,6.3]},"encoding":{"y":{"field":"t","type":"quantitative","scale":{"type":"log","domain":[0.0002,25.7],"nice":false}},"color":{"field":"s","type":"nominal","scale":{"domain":["B","D","M","R","O","T"],"range":["#c23b55","#2e3f52","#000000","#c23b55","#e39b30","#3f8a87"]},"legend":null}}},
  {"transform":[{"filter":"datum.k=='m'&&isValid(datum.lo)"}],"mark":{"type":"rule","strokeWidth":2},"encoding":{"y":{"field":"lo","type":"quantitative","scale":{"type":"log","domain":[0.0002,25.7],"nice":false}},"y2":{"field":"hi"},"color":{"field":"s","type":"nominal","scale":{"domain":["B","D","M","R","O","T"],"range":["#c23b55","#2e3f52","#000000","#c23b55","#e39b30","#3f8a87"]},"legend":null}}},
  {"transform":[{"filter":"datum.k=='m'&&isValid(datum.lo)"}],"mark":{"type":"tick","orient":"horizontal","thickness":2,"size":8,"opacity":1},"encoding":{"y":{"field":"lo","type":"quantitative","scale":{"type":"log","domain":[0.0002,25.7],"nice":false}},"color":{"field":"s","type":"nominal","scale":{"domain":["B","D","M","R","O","T"],"range":["#c23b55","#2e3f52","#000000","#c23b55","#e39b30","#3f8a87"]},"legend":null}}},
  {"transform":[{"filter":"datum.k=='m'&&isValid(datum.lo)"}],"mark":{"type":"tick","orient":"horizontal","thickness":2,"size":8,"opacity":1},"encoding":{"y":{"field":"hi","type":"quantitative","scale":{"type":"log","domain":[0.0002,25.7],"nice":false}},"color":{"field":"s","type":"nominal","scale":{"domain":["B","D","M","R","O","T"],"range":["#c23b55","#2e3f52","#000000","#c23b55","#e39b30","#3f8a87"]},"legend":null}}},
  {"transform":[{"filter":"datum.k=='m'"}],"mark":{"type":"point","filled":true,"size":42,"opacity":1},"encoding":{"y":{"field":"t","type":"quantitative","scale":{"type":"log","domain":[0.0002,25.7],"nice":false},"axis":{"values":[0.001,0.01,0.1,1,10],"labels":false,"title":null,"grid":true}},"color":{"field":"s","type":"nominal","scale":{"domain":["B","D","M","R","O","T"],"range":["#c23b55","#2e3f52","#000000","#c23b55","#e39b30","#3f8a87"]},"legend":null}}},
  {"transform":[{"filter":"datum.lim=='u'"}],"mark":{"type":"point","filled":true,"opacity":1,"size":230,"shape":"M-0.12,0L0.12,0L0.12,0.7L0.65,0.7L0,2.05L-0.65,0.7L-0.12,0.7Z"},"encoding":{"y":{"field":"t","type":"quantitative","scale":{"type":"log","domain":[0.0002,25.7],"nice":false}},"color":{"field":"s","type":"nominal","scale":{"domain":["B","D","M","R","O","T"],"range":["#c23b55","#2e3f52","#000000","#c23b55","#e39b30","#3f8a87"]},"legend":null}}},
  {"transform":[{"filter":"datum.lim=='l'"}],"mark":{"type":"point","filled":true,"opacity":1,"size":330,"shape":"M-0.12,0L0.12,0L0.12,-1L0.5,-1L0,-2L-0.5,-1L-0.12,-1Z"},"encoding":{"y":{"field":"t","type":"quantitative","scale":{"type":"log","domain":[0.0002,25.7],"nice":false}},"color":{"field":"s","type":"nominal","scale":{"domain":["B","D","M","R","O","T"],"range":["#c23b55","#2e3f52","#000000","#c23b55","#e39b30","#3f8a87"]},"legend":null}}}
 ]},
{"width":169,"height":178,"title":{"text":"zₛ = 0.270"},"transform":[{"filter":"datum.p==4"}],
 "encoding":{"x":{"field":"E","type":"quantitative","scale":{"type":"log","domain":[39.8,1167],"nice":false},"axis":{"values":[100,300,1000],"format":"d","title":"Eᵧ [GeV]","grid":true}}},
 "layer":[
  {"transform":[{"filter":"datum.k=='b'"}],"mark":{"type":"rect","clip":true,"fill":"#cdcdcd","opacity":0.5},"encoding":{"x2":{"field":"E2"}}},
  {"transform":[{"filter":"datum.k=='c'"}],"mark":{"type":"line","clip":true,"strokeWidth":3.2,"strokeDash":[3,6.3]},"encoding":{"y":{"field":"t","type":"quantitative","scale":{"type":"log","domain":[0.0002,25.7],"nice":false}},"color":{"field":"s","type":"nominal","scale":{"domain":["B","D","M","R","O","T"],"range":["#c23b55","#2e3f52","#000000","#c23b55","#e39b30","#3f8a87"]},"legend":null}}},
  {"transform":[{"filter":"datum.k=='m'&&isValid(datum.lo)"}],"mark":{"type":"rule","strokeWidth":2},"encoding":{"y":{"field":"lo","type":"quantitative","scale":{"type":"log","domain":[0.0002,25.7],"nice":false}},"y2":{"field":"hi"},"color":{"field":"s","type":"nominal","scale":{"domain":["B","D","M","R","O","T"],"range":["#c23b55","#2e3f52","#000000","#c23b55","#e39b30","#3f8a87"]},"legend":null}}},
  {"transform":[{"filter":"datum.k=='m'&&isValid(datum.lo)"}],"mark":{"type":"tick","orient":"horizontal","thickness":2,"size":8,"opacity":1},"encoding":{"y":{"field":"lo","type":"quantitative","scale":{"type":"log","domain":[0.0002,25.7],"nice":false}},"color":{"field":"s","type":"nominal","scale":{"domain":["B","D","M","R","O","T"],"range":["#c23b55","#2e3f52","#000000","#c23b55","#e39b30","#3f8a87"]},"legend":null}}},
  {"transform":[{"filter":"datum.k=='m'&&isValid(datum.lo)"}],"mark":{"type":"tick","orient":"horizontal","thickness":2,"size":8,"opacity":1},"encoding":{"y":{"field":"hi","type":"quantitative","scale":{"type":"log","domain":[0.0002,25.7],"nice":false}},"color":{"field":"s","type":"nominal","scale":{"domain":["B","D","M","R","O","T"],"range":["#c23b55","#2e3f52","#000000","#c23b55","#e39b30","#3f8a87"]},"legend":null}}},
  {"transform":[{"filter":"datum.k=='m'"}],"mark":{"type":"point","filled":true,"size":42,"opacity":1},"encoding":{"y":{"field":"t","type":"quantitative","scale":{"type":"log","domain":[0.0002,25.7],"nice":false},"axis":{"values":[0.001,0.01,0.1,1,10],"labels":false,"title":null,"grid":true}},"color":{"field":"s","type":"nominal","scale":{"domain":["B","D","M","R","O","T"],"range":["#c23b55","#2e3f52","#000000","#c23b55","#e39b30","#3f8a87"]},"legend":null}}},
  {"transform":[{"filter":"datum.lim=='u'"}],"mark":{"type":"point","filled":true,"opacity":1,"size":230,"shape":"M-0.12,0L0.12,0L0.12,0.7L0.65,0.7L0,2.05L-0.65,0.7L-0.12,0.7Z"},"encoding":{"y":{"field":"t","type":"quantitative","scale":{"type":"log","domain":[0.0002,25.7],"nice":false}},"color":{"field":"s","type":"nominal","scale":{"domain":["B","D","M","R","O","T"],"range":["#c23b55","#2e3f52","#000000","#c23b55","#e39b30","#3f8a87"]},"legend":null}}},
  {"transform":[{"filter":"datum.lim=='l'"}],"mark":{"type":"point","filled":true,"opacity":1,"size":330,"shape":"M-0.12,0L0.12,0L0.12,-1L0.5,-1L0,-2L-0.5,-1L-0.12,-1Z"},"encoding":{"y":{"field":"t","type":"quantitative","scale":{"type":"log","domain":[0.0002,25.7],"nice":false}},"color":{"field":"s","type":"nominal","scale":{"domain":["B","D","M","R","O","T"],"range":["#c23b55","#2e3f52","#000000","#c23b55","#e39b30","#3f8a87"]},"legend":null}}}
 ]},
{"width":169,"height":178,"title":{"text":"zₛ = 0.390"},"transform":[{"filter":"datum.p==5"}],
 "encoding":{"x":{"field":"E","type":"quantitative","scale":{"type":"log","domain":[20.3,692],"nice":false},"axis":{"values":[30,100,300],"format":"d","title":"Eᵧ [GeV]","grid":true}}},
 "layer":[
  {"transform":[{"filter":"datum.k=='b'"}],"mark":{"type":"rect","clip":true,"fill":"#cdcdcd","opacity":0.5},"encoding":{"x2":{"field":"E2"}}},
  {"transform":[{"filter":"datum.k=='c'"}],"mark":{"type":"line","clip":true,"strokeWidth":3.2,"strokeDash":[3,6.3]},"encoding":{"y":{"field":"t","type":"quantitative","scale":{"type":"log","domain":[0.0002,25.7],"nice":false}},"color":{"field":"s","type":"nominal","scale":{"domain":["B","D","M","R","O","T"],"range":["#c23b55","#2e3f52","#000000","#c23b55","#e39b30","#3f8a87"]},"legend":null}}},
  {"transform":[{"filter":"datum.k=='m'&&isValid(datum.lo)"}],"mark":{"type":"rule","strokeWidth":2},"encoding":{"y":{"field":"lo","type":"quantitative","scale":{"type":"log","domain":[0.0002,25.7],"nice":false}},"y2":{"field":"hi"},"color":{"field":"s","type":"nominal","scale":{"domain":["B","D","M","R","O","T"],"range":["#c23b55","#2e3f52","#000000","#c23b55","#e39b30","#3f8a87"]},"legend":null}}},
  {"transform":[{"filter":"datum.k=='m'&&isValid(datum.lo)"}],"mark":{"type":"tick","orient":"horizontal","thickness":2,"size":8,"opacity":1},"encoding":{"y":{"field":"lo","type":"quantitative","scale":{"type":"log","domain":[0.0002,25.7],"nice":false}},"color":{"field":"s","type":"nominal","scale":{"domain":["B","D","M","R","O","T"],"range":["#c23b55","#2e3f52","#000000","#c23b55","#e39b30","#3f8a87"]},"legend":null}}},
  {"transform":[{"filter":"datum.k=='m'&&isValid(datum.lo)"}],"mark":{"type":"tick","orient":"horizontal","thickness":2,"size":8,"opacity":1},"encoding":{"y":{"field":"hi","type":"quantitative","scale":{"type":"log","domain":[0.0002,25.7],"nice":false}},"color":{"field":"s","type":"nominal","scale":{"domain":["B","D","M","R","O","T"],"range":["#c23b55","#2e3f52","#000000","#c23b55","#e39b30","#3f8a87"]},"legend":null}}},
  {"transform":[{"filter":"datum.k=='m'"}],"mark":{"type":"point","filled":true,"size":42,"opacity":1},"encoding":{"y":{"field":"t","type":"quantitative","scale":{"type":"log","domain":[0.0002,25.7],"nice":false},"axis":{"values":[0.001,0.01,0.1,1,10],"labels":false,"title":null,"grid":true}},"color":{"field":"s","type":"nominal","scale":{"domain":["B","D","M","R","O","T"],"range":["#c23b55","#2e3f52","#000000","#c23b55","#e39b30","#3f8a87"]},"legend":null}}},
  {"transform":[{"filter":"datum.lim=='u'"}],"mark":{"type":"point","filled":true,"opacity":1,"size":230,"shape":"M-0.12,0L0.12,0L0.12,0.7L0.65,0.7L0,2.05L-0.65,0.7L-0.12,0.7Z"},"encoding":{"y":{"field":"t","type":"quantitative","scale":{"type":"log","domain":[0.0002,25.7],"nice":false}},"color":{"field":"s","type":"nominal","scale":{"domain":["B","D","M","R","O","T"],"range":["#c23b55","#2e3f52","#000000","#c23b55","#e39b30","#3f8a87"]},"legend":null}}},
  {"transform":[{"filter":"datum.lim=='l'"}],"mark":{"type":"point","filled":true,"opacity":1,"size":330,"shape":"M-0.12,0L0.12,0L0.12,-1L0.5,-1L0,-2L-0.5,-1L-0.12,-1Z"},"encoding":{"y":{"field":"t","type":"quantitative","scale":{"type":"log","domain":[0.0002,25.7],"nice":false}},"color":{"field":"s","type":"nominal","scale":{"domain":["B","D","M","R","O","T"],"range":["#c23b55","#2e3f52","#000000","#c23b55","#e39b30","#3f8a87"]},"legend":null}}}
 ]},
{"width":169,"height":178,"title":{"text":"zₛ = 0.520"},"transform":[{"filter":"datum.p==6"}],
 "encoding":{"x":{"field":"E","type":"quantitative","scale":{"type":"log","domain":[20.1,692],"nice":false},"axis":{"values":[30,100,300],"format":"d","title":"Eᵧ [GeV]","grid":true}}},
 "layer":[
  {"transform":[{"filter":"datum.k=='b'"}],"mark":{"type":"rect","clip":true,"fill":"#cdcdcd","opacity":0.5},"encoding":{"x2":{"field":"E2"}}},
  {"transform":[{"filter":"datum.k=='c'"}],"mark":{"type":"line","clip":true,"strokeWidth":3.2,"strokeDash":[3,6.3]},"encoding":{"y":{"field":"t","type":"quantitative","scale":{"type":"log","domain":[0.0002,25.7],"nice":false}},"color":{"field":"s","type":"nominal","scale":{"domain":["B","D","M","R","O","T"],"range":["#c23b55","#2e3f52","#000000","#c23b55","#e39b30","#3f8a87"]},"legend":null}}},
  {"transform":[{"filter":"datum.k=='m'&&isValid(datum.lo)"}],"mark":{"type":"rule","strokeWidth":2},"encoding":{"y":{"field":"lo","type":"quantitative","scale":{"type":"log","domain":[0.0002,25.7],"nice":false}},"y2":{"field":"hi"},"color":{"field":"s","type":"nominal","scale":{"domain":["B","D","M","R","O","T"],"range":["#c23b55","#2e3f52","#000000","#c23b55","#e39b30","#3f8a87"]},"legend":null}}},
  {"transform":[{"filter":"datum.k=='m'&&isValid(datum.lo)"}],"mark":{"type":"tick","orient":"horizontal","thickness":2,"size":8,"opacity":1},"encoding":{"y":{"field":"lo","type":"quantitative","scale":{"type":"log","domain":[0.0002,25.7],"nice":false}},"color":{"field":"s","type":"nominal","scale":{"domain":["B","D","M","R","O","T"],"range":["#c23b55","#2e3f52","#000000","#c23b55","#e39b30","#3f8a87"]},"legend":null}}},
  {"transform":[{"filter":"datum.k=='m'&&isValid(datum.lo)"}],"mark":{"type":"tick","orient":"horizontal","thickness":2,"size":8,"opacity":1},"encoding":{"y":{"field":"hi","type":"quantitative","scale":{"type":"log","domain":[0.0002,25.7],"nice":false}},"color":{"field":"s","type":"nominal","scale":{"domain":["B","D","M","R","O","T"],"range":["#c23b55","#2e3f52","#000000","#c23b55","#e39b30","#3f8a87"]},"legend":null}}},
  {"transform":[{"filter":"datum.k=='m'"}],"mark":{"type":"point","filled":true,"size":42,"opacity":1},"encoding":{"y":{"field":"t","type":"quantitative","scale":{"type":"log","domain":[0.0002,25.7],"nice":false},"axis":{"values":[0.001,0.01,0.1,1,10],"labels":false,"title":null,"grid":true}},"color":{"field":"s","type":"nominal","scale":{"domain":["B","D","M","R","O","T"],"range":["#c23b55","#2e3f52","#000000","#c23b55","#e39b30","#3f8a87"]},"legend":null}}},
  {"transform":[{"filter":"datum.lim=='u'"}],"mark":{"type":"point","filled":true,"opacity":1,"size":230,"shape":"M-0.12,0L0.12,0L0.12,0.7L0.65,0.7L0,2.05L-0.65,0.7L-0.12,0.7Z"},"encoding":{"y":{"field":"t","type":"quantitative","scale":{"type":"log","domain":[0.0002,25.7],"nice":false}},"color":{"field":"s","type":"nominal","scale":{"domain":["B","D","M","R","O","T"],"range":["#c23b55","#2e3f52","#000000","#c23b55","#e39b30","#3f8a87"]},"legend":null}}},
  {"transform":[{"filter":"datum.lim=='l'"}],"mark":{"type":"point","filled":true,"opacity":1,"size":330,"shape":"M-0.12,0L0.12,0L0.12,-1L0.5,-1L0,-2L-0.5,-1L-0.12,-1Z"},"encoding":{"y":{"field":"t","type":"quantitative","scale":{"type":"log","domain":[0.0002,25.7],"nice":false}},"color":{"field":"s","type":"nominal","scale":{"domain":["B","D","M","R","O","T"],"range":["#c23b55","#2e3f52","#000000","#c23b55","#e39b30","#3f8a87"]},"legend":null}}}
 ]},
{"width":169,"height":178,"title":{"text":"zₛ = 0.650"},"transform":[{"filter":"datum.p==7"}],
 "encoding":{"x":{"field":"E","type":"quantitative","scale":{"type":"log","domain":[20,690],"nice":false},"axis":{"values":[30,100,300],"format":"d","title":"Eᵧ [GeV]","grid":true}}},
 "layer":[
  {"transform":[{"filter":"datum.k=='b'"}],"mark":{"type":"rect","clip":true,"fill":"#cdcdcd","opacity":0.5},"encoding":{"x2":{"field":"E2"}}},
  {"transform":[{"filter":"datum.k=='c'"}],"mark":{"type":"line","clip":true,"strokeWidth":3.2,"strokeDash":[3,6.3]},"encoding":{"y":{"field":"t","type":"quantitative","scale":{"type":"log","domain":[0.0002,25.7],"nice":false}},"color":{"field":"s","type":"nominal","scale":{"domain":["B","D","M","R","O","T"],"range":["#c23b55","#2e3f52","#000000","#c23b55","#e39b30","#3f8a87"]},"legend":null}}},
  {"transform":[{"filter":"datum.k=='m'&&isValid(datum.lo)"}],"mark":{"type":"rule","strokeWidth":2},"encoding":{"y":{"field":"lo","type":"quantitative","scale":{"type":"log","domain":[0.0002,25.7],"nice":false}},"y2":{"field":"hi"},"color":{"field":"s","type":"nominal","scale":{"domain":["B","D","M","R","O","T"],"range":["#c23b55","#2e3f52","#000000","#c23b55","#e39b30","#3f8a87"]},"legend":null}}},
  {"transform":[{"filter":"datum.k=='m'&&isValid(datum.lo)"}],"mark":{"type":"tick","orient":"horizontal","thickness":2,"size":8,"opacity":1},"encoding":{"y":{"field":"lo","type":"quantitative","scale":{"type":"log","domain":[0.0002,25.7],"nice":false}},"color":{"field":"s","type":"nominal","scale":{"domain":["B","D","M","R","O","T"],"range":["#c23b55","#2e3f52","#000000","#c23b55","#e39b30","#3f8a87"]},"legend":null}}},
  {"transform":[{"filter":"datum.k=='m'&&isValid(datum.lo)"}],"mark":{"type":"tick","orient":"horizontal","thickness":2,"size":8,"opacity":1},"encoding":{"y":{"field":"hi","type":"quantitative","scale":{"type":"log","domain":[0.0002,25.7],"nice":false}},"color":{"field":"s","type":"nominal","scale":{"domain":["B","D","M","R","O","T"],"range":["#c23b55","#2e3f52","#000000","#c23b55","#e39b30","#3f8a87"]},"legend":null}}},
  {"transform":[{"filter":"datum.k=='m'"}],"mark":{"type":"point","filled":true,"size":42,"opacity":1},"encoding":{"y":{"field":"t","type":"quantitative","scale":{"type":"log","domain":[0.0002,25.7],"nice":false},"axis":{"values":[0.001,0.01,0.1,1,10],"labels":false,"title":null,"grid":true}},"color":{"field":"s","type":"nominal","scale":{"domain":["B","D","M","R","O","T"],"range":["#c23b55","#2e3f52","#000000","#c23b55","#e39b30","#3f8a87"]},"legend":null}}},
  {"transform":[{"filter":"datum.lim=='u'"}],"mark":{"type":"point","filled":true,"opacity":1,"size":230,"shape":"M-0.12,0L0.12,0L0.12,0.7L0.65,0.7L0,2.05L-0.65,0.7L-0.12,0.7Z"},"encoding":{"y":{"field":"t","type":"quantitative","scale":{"type":"log","domain":[0.0002,25.7],"nice":false}},"color":{"field":"s","type":"nominal","scale":{"domain":["B","D","M","R","O","T"],"range":["#c23b55","#2e3f52","#000000","#c23b55","#e39b30","#3f8a87"]},"legend":null}}},
  {"transform":[{"filter":"datum.lim=='l'"}],"mark":{"type":"point","filled":true,"opacity":1,"size":330,"shape":"M-0.12,0L0.12,0L0.12,-1L0.5,-1L0,-2L-0.5,-1L-0.12,-1Z"},"encoding":{"y":{"field":"t","type":"quantitative","scale":{"type":"log","domain":[0.0002,25.7],"nice":false}},"color":{"field":"s","type":"nominal","scale":{"domain":["B","D","M","R","O","T"],"range":["#c23b55","#2e3f52","#000000","#c23b55","#e39b30","#3f8a87"]},"legend":null}}}
 ]},
{"width":169,"height":178,"title":{"text":"zₛ = 0.790"},"transform":[{"filter":"datum.p==8"}],
 "encoding":{"x":{"field":"E","type":"quantitative","scale":{"type":"log","domain":[8.1,700],"nice":false},"axis":{"values":[10,30,100,300],"format":"d","title":"Eᵧ [GeV]","grid":true}}},
 "layer":[
  {"transform":[{"filter":"datum.k=='b'"}],"mark":{"type":"rect","clip":true,"fill":"#cdcdcd","opacity":0.5},"encoding":{"x2":{"field":"E2"}}},
  {"transform":[{"filter":"datum.k=='c'"}],"mark":{"type":"line","clip":true,"strokeWidth":3.2,"strokeDash":[3,6.3]},"encoding":{"y":{"field":"t","type":"quantitative","scale":{"type":"log","domain":[0.0002,25.7],"nice":false}},"color":{"field":"s","type":"nominal","scale":{"domain":["B","D","M","R","O","T"],"range":["#c23b55","#2e3f52","#000000","#c23b55","#e39b30","#3f8a87"]},"legend":null}}},
  {"transform":[{"filter":"datum.k=='m'&&isValid(datum.lo)"}],"mark":{"type":"rule","strokeWidth":2},"encoding":{"y":{"field":"lo","type":"quantitative","scale":{"type":"log","domain":[0.0002,25.7],"nice":false}},"y2":{"field":"hi"},"color":{"field":"s","type":"nominal","scale":{"domain":["B","D","M","R","O","T"],"range":["#c23b55","#2e3f52","#000000","#c23b55","#e39b30","#3f8a87"]},"legend":null}}},
  {"transform":[{"filter":"datum.k=='m'&&isValid(datum.lo)"}],"mark":{"type":"tick","orient":"horizontal","thickness":2,"size":8,"opacity":1},"encoding":{"y":{"field":"lo","type":"quantitative","scale":{"type":"log","domain":[0.0002,25.7],"nice":false}},"color":{"field":"s","type":"nominal","scale":{"domain":["B","D","M","R","O","T"],"range":["#c23b55","#2e3f52","#000000","#c23b55","#e39b30","#3f8a87"]},"legend":null}}},
  {"transform":[{"filter":"datum.k=='m'&&isValid(datum.lo)"}],"mark":{"type":"tick","orient":"horizontal","thickness":2,"size":8,"opacity":1},"encoding":{"y":{"field":"hi","type":"quantitative","scale":{"type":"log","domain":[0.0002,25.7],"nice":false}},"color":{"field":"s","type":"nominal","scale":{"domain":["B","D","M","R","O","T"],"range":["#c23b55","#2e3f52","#000000","#c23b55","#e39b30","#3f8a87"]},"legend":null}}},
  {"transform":[{"filter":"datum.k=='m'"}],"mark":{"type":"point","filled":true,"size":42,"opacity":1},"encoding":{"y":{"field":"t","type":"quantitative","scale":{"type":"log","domain":[0.0002,25.7],"nice":false},"axis":{"values":[0.001,0.01,0.1,1,10],"labelExpr":"datum.value>9?'10¹':datum.value>0.9?'10⁰':datum.value>0.09?'10⁻¹':datum.value>0.009?'10⁻²':'10⁻³'","title":"τ","titleFontStyle":"italic","titleFontSize":24,"grid":true}},"color":{"field":"s","type":"nominal","scale":{"domain":["B","D","M","R","O","T"],"range":["#c23b55","#2e3f52","#000000","#c23b55","#e39b30","#3f8a87"]},"legend":null}}},
  {"transform":[{"filter":"datum.lim=='u'"}],"mark":{"type":"point","filled":true,"opacity":1,"size":230,"shape":"M-0.12,0L0.12,0L0.12,0.7L0.65,0.7L0,2.05L-0.65,0.7L-0.12,0.7Z"},"encoding":{"y":{"field":"t","type":"quantitative","scale":{"type":"log","domain":[0.0002,25.7],"nice":false}},"color":{"field":"s","type":"nominal","scale":{"domain":["B","D","M","R","O","T"],"range":["#c23b55","#2e3f52","#000000","#c23b55","#e39b30","#3f8a87"]},"legend":null}}},
  {"transform":[{"filter":"datum.lim=='l'"}],"mark":{"type":"point","filled":true,"opacity":1,"size":330,"shape":"M-0.12,0L0.12,0L0.12,-1L0.5,-1L0,-2L-0.5,-1L-0.12,-1Z"},"encoding":{"y":{"field":"t","type":"quantitative","scale":{"type":"log","domain":[0.0002,25.7],"nice":false}},"color":{"field":"s","type":"nominal","scale":{"domain":["B","D","M","R","O","T"],"range":["#c23b55","#2e3f52","#000000","#c23b55","#e39b30","#3f8a87"]},"legend":null}}}
 ]},
{"width":169,"height":178,"title":{"text":"zₛ = 0.920"},"transform":[{"filter":"datum.p==9"}],
 "encoding":{"x":{"field":"E","type":"quantitative","scale":{"type":"log","domain":[8.1,700],"nice":false},"axis":{"values":[10,30,100,300],"format":"d","title":"Eᵧ [GeV]","grid":true}}},
 "layer":[
  {"transform":[{"filter":"datum.k=='b'"}],"mark":{"type":"rect","clip":true,"fill":"#cdcdcd","opacity":0.5},"encoding":{"x2":{"field":"E2"}}},
  {"transform":[{"filter":"datum.k=='c'"}],"mark":{"type":"line","clip":true,"strokeWidth":3.2,"strokeDash":[3,6.3]},"encoding":{"y":{"field":"t","type":"quantitative","scale":{"type":"log","domain":[0.0002,25.7],"nice":false}},"color":{"field":"s","type":"nominal","scale":{"domain":["B","D","M","R","O","T"],"range":["#c23b55","#2e3f52","#000000","#c23b55","#e39b30","#3f8a87"]},"legend":null}}},
  {"transform":[{"filter":"datum.k=='m'&&isValid(datum.lo)"}],"mark":{"type":"rule","strokeWidth":2},"encoding":{"y":{"field":"lo","type":"quantitative","scale":{"type":"log","domain":[0.0002,25.7],"nice":false}},"y2":{"field":"hi"},"color":{"field":"s","type":"nominal","scale":{"domain":["B","D","M","R","O","T"],"range":["#c23b55","#2e3f52","#000000","#c23b55","#e39b30","#3f8a87"]},"legend":null}}},
  {"transform":[{"filter":"datum.k=='m'&&isValid(datum.lo)"}],"mark":{"type":"tick","orient":"horizontal","thickness":2,"size":8,"opacity":1},"encoding":{"y":{"field":"lo","type":"quantitative","scale":{"type":"log","domain":[0.0002,25.7],"nice":false}},"color":{"field":"s","type":"nominal","scale":{"domain":["B","D","M","R","O","T"],"range":["#c23b55","#2e3f52","#000000","#c23b55","#e39b30","#3f8a87"]},"legend":null}}},
  {"transform":[{"filter":"datum.k=='m'&&isValid(datum.lo)"}],"mark":{"type":"tick","orient":"horizontal","thickness":2,"size":8,"opacity":1},"encoding":{"y":{"field":"hi","type":"quantitative","scale":{"type":"log","domain":[0.0002,25.7],"nice":false}},"color":{"field":"s","type":"nominal","scale":{"domain":["B","D","M","R","O","T"],"range":["#c23b55","#2e3f52","#000000","#c23b55","#e39b30","#3f8a87"]},"legend":null}}},
  {"transform":[{"filter":"datum.k=='m'"}],"mark":{"type":"point","filled":true,"size":42,"opacity":1},"encoding":{"y":{"field":"t","type":"quantitative","scale":{"type":"log","domain":[0.0002,25.7],"nice":false},"axis":{"values":[0.001,0.01,0.1,1,10],"labels":false,"title":null,"grid":true}},"color":{"field":"s","type":"nominal","scale":{"domain":["B","D","M","R","O","T"],"range":["#c23b55","#2e3f52","#000000","#c23b55","#e39b30","#3f8a87"]},"legend":null}}},
  {"transform":[{"filter":"datum.lim=='u'"}],"mark":{"type":"point","filled":true,"opacity":1,"size":230,"shape":"M-0.12,0L0.12,0L0.12,0.7L0.65,0.7L0,2.05L-0.65,0.7L-0.12,0.7Z"},"encoding":{"y":{"field":"t","type":"quantitative","scale":{"type":"log","domain":[0.0002,25.7],"nice":false}},"color":{"field":"s","type":"nominal","scale":{"domain":["B","D","M","R","O","T"],"range":["#c23b55","#2e3f52","#000000","#c23b55","#e39b30","#3f8a87"]},"legend":null}}},
  {"transform":[{"filter":"datum.lim=='l'"}],"mark":{"type":"point","filled":true,"opacity":1,"size":330,"shape":"M-0.12,0L0.12,0L0.12,-1L0.5,-1L0,-2L-0.5,-1L-0.12,-1Z"},"encoding":{"y":{"field":"t","type":"quantitative","scale":{"type":"log","domain":[0.0002,25.7],"nice":false}},"color":{"field":"s","type":"nominal","scale":{"domain":["B","D","M","R","O","T"],"range":["#c23b55","#2e3f52","#000000","#c23b55","#e39b30","#3f8a87"]},"legend":null}}}
 ]},
{"width":169,"height":178,"title":{"text":"zₛ = 1.010"},"transform":[{"filter":"datum.p==10"}],
 "encoding":{"x":{"field":"E","type":"quantitative","scale":{"type":"log","domain":[8.05,700],"nice":false},"axis":{"values":[10,30,100,300],"format":"d","title":"Eᵧ [GeV]","grid":true}}},
 "layer":[
  {"transform":[{"filter":"datum.k=='b'"}],"mark":{"type":"rect","clip":true,"fill":"#cdcdcd","opacity":0.5},"encoding":{"x2":{"field":"E2"}}},
  {"transform":[{"filter":"datum.k=='c'"}],"mark":{"type":"line","clip":true,"strokeWidth":3.2,"strokeDash":[3,6.3]},"encoding":{"y":{"field":"t","type":"quantitative","scale":{"type":"log","domain":[0.0002,25.7],"nice":false}},"color":{"field":"s","type":"nominal","scale":{"domain":["B","D","M","R","O","T"],"range":["#c23b55","#2e3f52","#000000","#c23b55","#e39b30","#3f8a87"]},"legend":null}}},
  {"transform":[{"filter":"datum.k=='m'&&isValid(datum.lo)"}],"mark":{"type":"rule","strokeWidth":2},"encoding":{"y":{"field":"lo","type":"quantitative","scale":{"type":"log","domain":[0.0002,25.7],"nice":false}},"y2":{"field":"hi"},"color":{"field":"s","type":"nominal","scale":{"domain":["B","D","M","R","O","T"],"range":["#c23b55","#2e3f52","#000000","#c23b55","#e39b30","#3f8a87"]},"legend":null}}},
  {"transform":[{"filter":"datum.k=='m'&&isValid(datum.lo)"}],"mark":{"type":"tick","orient":"horizontal","thickness":2,"size":8,"opacity":1},"encoding":{"y":{"field":"lo","type":"quantitative","scale":{"type":"log","domain":[0.0002,25.7],"nice":false}},"color":{"field":"s","type":"nominal","scale":{"domain":["B","D","M","R","O","T"],"range":["#c23b55","#2e3f52","#000000","#c23b55","#e39b30","#3f8a87"]},"legend":null}}},
  {"transform":[{"filter":"datum.k=='m'&&isValid(datum.lo)"}],"mark":{"type":"tick","orient":"horizontal","thickness":2,"size":8,"opacity":1},"encoding":{"y":{"field":"hi","type":"quantitative","scale":{"type":"log","domain":[0.0002,25.7],"nice":false}},"color":{"field":"s","type":"nominal","scale":{"domain":["B","D","M","R","O","T"],"range":["#c23b55","#2e3f52","#000000","#c23b55","#e39b30","#3f8a87"]},"legend":null}}},
  {"transform":[{"filter":"datum.k=='m'"}],"mark":{"type":"point","filled":true,"size":42,"opacity":1},"encoding":{"y":{"field":"t","type":"quantitative","scale":{"type":"log","domain":[0.0002,25.7],"nice":false},"axis":{"values":[0.001,0.01,0.1,1,10],"labels":false,"title":null,"grid":true}},"color":{"field":"s","type":"nominal","scale":{"domain":["B","D","M","R","O","T"],"range":["#c23b55","#2e3f52","#000000","#c23b55","#e39b30","#3f8a87"]},"legend":null}}},
  {"transform":[{"filter":"datum.lim=='u'"}],"mark":{"type":"point","filled":true,"opacity":1,"size":230,"shape":"M-0.12,0L0.12,0L0.12,0.7L0.65,0.7L0,2.05L-0.65,0.7L-0.12,0.7Z"},"encoding":{"y":{"field":"t","type":"quantitative","scale":{"type":"log","domain":[0.0002,25.7],"nice":false}},"color":{"field":"s","type":"nominal","scale":{"domain":["B","D","M","R","O","T"],"range":["#c23b55","#2e3f52","#000000","#c23b55","#e39b30","#3f8a87"]},"legend":null}}},
  {"transform":[{"filter":"datum.lim=='l'"}],"mark":{"type":"point","filled":true,"opacity":1,"size":330,"shape":"M-0.12,0L0.12,0L0.12,-1L0.5,-1L0,-2L-0.5,-1L-0.12,-1Z"},"encoding":{"y":{"field":"t","type":"quantitative","scale":{"type":"log","domain":[0.0002,25.7],"nice":false}},"color":{"field":"s","type":"nominal","scale":{"domain":["B","D","M","R","O","T"],"range":["#c23b55","#2e3f52","#000000","#c23b55","#e39b30","#3f8a87"]},"legend":null}}}
 ]},
{"width":169,"height":178,"title":{"text":"zₛ = 1.240"},"transform":[{"filter":"datum.p==11"}],
 "encoding":{"x":{"field":"E","type":"quantitative","scale":{"type":"log","domain":[8.05,700],"nice":false},"axis":{"values":[10,30,100,300],"format":"d","title":"Eᵧ [GeV]","grid":true}}},
 "layer":[
  {"transform":[{"filter":"datum.k=='b'"}],"mark":{"type":"rect","clip":true,"fill":"#cdcdcd","opacity":0.5},"encoding":{"x2":{"field":"E2"}}},
  {"transform":[{"filter":"datum.k=='c'"}],"mark":{"type":"line","clip":true,"strokeWidth":3.2,"strokeDash":[3,6.3]},"encoding":{"y":{"field":"t","type":"quantitative","scale":{"type":"log","domain":[0.0002,25.7],"nice":false}},"color":{"field":"s","type":"nominal","scale":{"domain":["B","D","M","R","O","T"],"range":["#c23b55","#2e3f52","#000000","#c23b55","#e39b30","#3f8a87"]},"legend":null}}},
  {"transform":[{"filter":"datum.k=='m'&&isValid(datum.lo)"}],"mark":{"type":"rule","strokeWidth":2},"encoding":{"y":{"field":"lo","type":"quantitative","scale":{"type":"log","domain":[0.0002,25.7],"nice":false}},"y2":{"field":"hi"},"color":{"field":"s","type":"nominal","scale":{"domain":["B","D","M","R","O","T"],"range":["#c23b55","#2e3f52","#000000","#c23b55","#e39b30","#3f8a87"]},"legend":null}}},
  {"transform":[{"filter":"datum.k=='m'&&isValid(datum.lo)"}],"mark":{"type":"tick","orient":"horizontal","thickness":2,"size":8,"opacity":1},"encoding":{"y":{"field":"lo","type":"quantitative","scale":{"type":"log","domain":[0.0002,25.7],"nice":false}},"color":{"field":"s","type":"nominal","scale":{"domain":["B","D","M","R","O","T"],"range":["#c23b55","#2e3f52","#000000","#c23b55","#e39b30","#3f8a87"]},"legend":null}}},
  {"transform":[{"filter":"datum.k=='m'&&isValid(datum.lo)"}],"mark":{"type":"tick","orient":"horizontal","thickness":2,"size":8,"opacity":1},"encoding":{"y":{"field":"hi","type":"quantitative","scale":{"type":"log","domain":[0.0002,25.7],"nice":false}},"color":{"field":"s","type":"nominal","scale":{"domain":["B","D","M","R","O","T"],"range":["#c23b55","#2e3f52","#000000","#c23b55","#e39b30","#3f8a87"]},"legend":null}}},
  {"transform":[{"filter":"datum.k=='m'"}],"mark":{"type":"point","filled":true,"size":42,"opacity":1},"encoding":{"y":{"field":"t","type":"quantitative","scale":{"type":"log","domain":[0.0002,25.7],"nice":false},"axis":{"values":[0.001,0.01,0.1,1,10],"labels":false,"title":null,"grid":true}},"color":{"field":"s","type":"nominal","scale":{"domain":["B","D","M","R","O","T"],"range":["#c23b55","#2e3f52","#000000","#c23b55","#e39b30","#3f8a87"]},"legend":null}}},
  {"transform":[{"filter":"datum.lim=='u'"}],"mark":{"type":"point","filled":true,"opacity":1,"size":230,"shape":"M-0.12,0L0.12,0L0.12,0.7L0.65,0.7L0,2.05L-0.65,0.7L-0.12,0.7Z"},"encoding":{"y":{"field":"t","type":"quantitative","scale":{"type":"log","domain":[0.0002,25.7],"nice":false}},"color":{"field":"s","type":"nominal","scale":{"domain":["B","D","M","R","O","T"],"range":["#c23b55","#2e3f52","#000000","#c23b55","#e39b30","#3f8a87"]},"legend":null}}},
  {"transform":[{"filter":"datum.lim=='l'"}],"mark":{"type":"point","filled":true,"opacity":1,"size":330,"shape":"M-0.12,0L0.12,0L0.12,-1L0.5,-1L0,-2L-0.5,-1L-0.12,-1Z"},"encoding":{"y":{"field":"t","type":"quantitative","scale":{"type":"log","domain":[0.0002,25.7],"nice":false}},"color":{"field":"s","type":"nominal","scale":{"domain":["B","D","M","R","O","T"],"range":["#c23b55","#2e3f52","#000000","#c23b55","#e39b30","#3f8a87"]},"legend":null}}}
 ]},
{"width":169,"height":178,"title":{"text":"zₛ = 1.470"},"transform":[{"filter":"datum.p==12"}],
 "encoding":{"x":{"field":"E","type":"quantitative","scale":{"type":"log","domain":[8.06,394],"nice":false},"axis":{"values":[10,30,100,300],"format":"d","title":"Eᵧ [GeV]","grid":true}}},
 "layer":[
  {"transform":[{"filter":"datum.k=='b'"}],"mark":{"type":"rect","clip":true,"fill":"#cdcdcd","opacity":0.5},"encoding":{"x2":{"field":"E2"}}},
  {"transform":[{"filter":"datum.k=='c'"}],"mark":{"type":"line","clip":true,"strokeWidth":3.2,"strokeDash":[3,6.3]},"encoding":{"y":{"field":"t","type":"quantitative","scale":{"type":"log","domain":[0.0002,25.7],"nice":false}},"color":{"field":"s","type":"nominal","scale":{"domain":["B","D","M","R","O","T"],"range":["#c23b55","#2e3f52","#000000","#c23b55","#e39b30","#3f8a87"]},"legend":null}}},
  {"transform":[{"filter":"datum.k=='m'&&isValid(datum.lo)"}],"mark":{"type":"rule","strokeWidth":2},"encoding":{"y":{"field":"lo","type":"quantitative","scale":{"type":"log","domain":[0.0002,25.7],"nice":false}},"y2":{"field":"hi"},"color":{"field":"s","type":"nominal","scale":{"domain":["B","D","M","R","O","T"],"range":["#c23b55","#2e3f52","#000000","#c23b55","#e39b30","#3f8a87"]},"legend":null}}},
  {"transform":[{"filter":"datum.k=='m'&&isValid(datum.lo)"}],"mark":{"type":"tick","orient":"horizontal","thickness":2,"size":8,"opacity":1},"encoding":{"y":{"field":"lo","type":"quantitative","scale":{"type":"log","domain":[0.0002,25.7],"nice":false}},"color":{"field":"s","type":"nominal","scale":{"domain":["B","D","M","R","O","T"],"range":["#c23b55","#2e3f52","#000000","#c23b55","#e39b30","#3f8a87"]},"legend":null}}},
  {"transform":[{"filter":"datum.k=='m'&&isValid(datum.lo)"}],"mark":{"type":"tick","orient":"horizontal","thickness":2,"size":8,"opacity":1},"encoding":{"y":{"field":"hi","type":"quantitative","scale":{"type":"log","domain":[0.0002,25.7],"nice":false}},"color":{"field":"s","type":"nominal","scale":{"domain":["B","D","M","R","O","T"],"range":["#c23b55","#2e3f52","#000000","#c23b55","#e39b30","#3f8a87"]},"legend":null}}},
  {"transform":[{"filter":"datum.k=='m'"}],"mark":{"type":"point","filled":true,"size":42,"opacity":1},"encoding":{"y":{"field":"t","type":"quantitative","scale":{"type":"log","domain":[0.0002,25.7],"nice":false},"axis":{"values":[0.001,0.01,0.1,1,10],"labels":false,"title":null,"grid":true}},"color":{"field":"s","type":"nominal","scale":{"domain":["B","D","M","R","O","T"],"range":["#c23b55","#2e3f52","#000000","#c23b55","#e39b30","#3f8a87"]},"legend":null}}},
  {"transform":[{"filter":"datum.lim=='u'"}],"mark":{"type":"point","filled":true,"opacity":1,"size":230,"shape":"M-0.12,0L0.12,0L0.12,0.7L0.65,0.7L0,2.05L-0.65,0.7L-0.12,0.7Z"},"encoding":{"y":{"field":"t","type":"quantitative","scale":{"type":"log","domain":[0.0002,25.7],"nice":false}},"color":{"field":"s","type":"nominal","scale":{"domain":["B","D","M","R","O","T"],"range":["#c23b55","#2e3f52","#000000","#c23b55","#e39b30","#3f8a87"]},"legend":null}}},
  {"transform":[{"filter":"datum.lim=='l'"}],"mark":{"type":"point","filled":true,"opacity":1,"size":330,"shape":"M-0.12,0L0.12,0L0.12,-1L0.5,-1L0,-2L-0.5,-1L-0.12,-1Z"},"encoding":{"y":{"field":"t","type":"quantitative","scale":{"type":"log","domain":[0.0002,25.7],"nice":false}},"color":{"field":"s","type":"nominal","scale":{"domain":["B","D","M","R","O","T"],"range":["#c23b55","#2e3f52","#000000","#c23b55","#e39b30","#3f8a87"]},"legend":null}}}
 ]},
{"width":169,"height":178,"title":{"text":"zₛ = 1.820"},"transform":[{"filter":"datum.p==13"}],
 "encoding":{"x":{"field":"E","type":"quantitative","scale":{"type":"log","domain":[8.6,193],"nice":false},"axis":{"values":[10,30,100],"format":"d","title":"Eᵧ [GeV]","grid":true}}},
 "layer":[
  {"transform":[{"filter":"datum.k=='b'"}],"mark":{"type":"rect","clip":true,"fill":"#cdcdcd","opacity":0.5},"encoding":{"x2":{"field":"E2"}}},
  {"transform":[{"filter":"datum.k=='c'"}],"mark":{"type":"line","clip":true,"strokeWidth":3.2,"strokeDash":[3,6.3]},"encoding":{"y":{"field":"t","type":"quantitative","scale":{"type":"log","domain":[0.0002,25.7],"nice":false}},"color":{"field":"s","type":"nominal","scale":{"domain":["B","D","M","R","O","T"],"range":["#c23b55","#2e3f52","#000000","#c23b55","#e39b30","#3f8a87"]},"legend":null}}},
  {"transform":[{"filter":"datum.k=='m'&&isValid(datum.lo)"}],"mark":{"type":"rule","strokeWidth":2},"encoding":{"y":{"field":"lo","type":"quantitative","scale":{"type":"log","domain":[0.0002,25.7],"nice":false}},"y2":{"field":"hi"},"color":{"field":"s","type":"nominal","scale":{"domain":["B","D","M","R","O","T"],"range":["#c23b55","#2e3f52","#000000","#c23b55","#e39b30","#3f8a87"]},"legend":null}}},
  {"transform":[{"filter":"datum.k=='m'&&isValid(datum.lo)"}],"mark":{"type":"tick","orient":"horizontal","thickness":2,"size":8,"opacity":1},"encoding":{"y":{"field":"lo","type":"quantitative","scale":{"type":"log","domain":[0.0002,25.7],"nice":false}},"color":{"field":"s","type":"nominal","scale":{"domain":["B","D","M","R","O","T"],"range":["#c23b55","#2e3f52","#000000","#c23b55","#e39b30","#3f8a87"]},"legend":null}}},
  {"transform":[{"filter":"datum.k=='m'&&isValid(datum.lo)"}],"mark":{"type":"tick","orient":"horizontal","thickness":2,"size":8,"opacity":1},"encoding":{"y":{"field":"hi","type":"quantitative","scale":{"type":"log","domain":[0.0002,25.7],"nice":false}},"color":{"field":"s","type":"nominal","scale":{"domain":["B","D","M","R","O","T"],"range":["#c23b55","#2e3f52","#000000","#c23b55","#e39b30","#3f8a87"]},"legend":null}}},
  {"transform":[{"filter":"datum.k=='m'"}],"mark":{"type":"point","filled":true,"size":42,"opacity":1},"encoding":{"y":{"field":"t","type":"quantitative","scale":{"type":"log","domain":[0.0002,25.7],"nice":false},"axis":{"values":[0.001,0.01,0.1,1,10],"labels":false,"title":null,"grid":true}},"color":{"field":"s","type":"nominal","scale":{"domain":["B","D","M","R","O","T"],"range":["#c23b55","#2e3f52","#000000","#c23b55","#e39b30","#3f8a87"]},"legend":null}}},
  {"transform":[{"filter":"datum.lim=='u'"}],"mark":{"type":"point","filled":true,"opacity":1,"size":230,"shape":"M-0.12,0L0.12,0L0.12,0.7L0.65,0.7L0,2.05L-0.65,0.7L-0.12,0.7Z"},"encoding":{"y":{"field":"t","type":"quantitative","scale":{"type":"log","domain":[0.0002,25.7],"nice":false}},"color":{"field":"s","type":"nominal","scale":{"domain":["B","D","M","R","O","T"],"range":["#c23b55","#2e3f52","#000000","#c23b55","#e39b30","#3f8a87"]},"legend":null}}},
  {"transform":[{"filter":"datum.lim=='l'"}],"mark":{"type":"point","filled":true,"opacity":1,"size":330,"shape":"M-0.12,0L0.12,0L0.12,-1L0.5,-1L0,-2L-0.5,-1L-0.12,-1Z"},"encoding":{"y":{"field":"t","type":"quantitative","scale":{"type":"log","domain":[0.0002,25.7],"nice":false}},"color":{"field":"s","type":"nominal","scale":{"domain":["B","D","M","R","O","T"],"range":["#c23b55","#2e3f52","#000000","#c23b55","#e39b30","#3f8a87"]},"legend":null}}}
 ]},
{"width":169,"height":178,"title":{"text":"zₛ = 2.400"},"transform":[{"filter":"datum.p==14"}],
 "encoding":{"x":{"field":"E","type":"quantitative","scale":{"type":"log","domain":[8,198],"nice":false},"axis":{"values":[10,30,100],"format":"d","title":"Eᵧ [GeV]","grid":true}}},
 "layer":[
  {"transform":[{"filter":"datum.k=='b'"}],"mark":{"type":"rect","clip":true,"fill":"#cdcdcd","opacity":0.5},"encoding":{"x2":{"field":"E2"}}},
  {"transform":[{"filter":"datum.k=='c'"}],"mark":{"type":"line","clip":true,"strokeWidth":3.2,"strokeDash":[3,6.3]},"encoding":{"y":{"field":"t","type":"quantitative","scale":{"type":"log","domain":[0.0002,25.7],"nice":false}},"color":{"field":"s","type":"nominal","scale":{"domain":["B","D","M","R","O","T"],"range":["#c23b55","#2e3f52","#000000","#c23b55","#e39b30","#3f8a87"]},"legend":null}}},
  {"transform":[{"filter":"datum.k=='m'&&isValid(datum.lo)"}],"mark":{"type":"rule","strokeWidth":2},"encoding":{"y":{"field":"lo","type":"quantitative","scale":{"type":"log","domain":[0.0002,25.7],"nice":false}},"y2":{"field":"hi"},"color":{"field":"s","type":"nominal","scale":{"domain":["B","D","M","R","O","T"],"range":["#c23b55","#2e3f52","#000000","#c23b55","#e39b30","#3f8a87"]},"legend":null}}},
  {"transform":[{"filter":"datum.k=='m'&&isValid(datum.lo)"}],"mark":{"type":"tick","orient":"horizontal","thickness":2,"size":8,"opacity":1},"encoding":{"y":{"field":"lo","type":"quantitative","scale":{"type":"log","domain":[0.0002,25.7],"nice":false}},"color":{"field":"s","type":"nominal","scale":{"domain":["B","D","M","R","O","T"],"range":["#c23b55","#2e3f52","#000000","#c23b55","#e39b30","#3f8a87"]},"legend":null}}},
  {"transform":[{"filter":"datum.k=='m'&&isValid(datum.lo)"}],"mark":{"type":"tick","orient":"horizontal","thickness":2,"size":8,"opacity":1},"encoding":{"y":{"field":"hi","type":"quantitative","scale":{"type":"log","domain":[0.0002,25.7],"nice":false}},"color":{"field":"s","type":"nominal","scale":{"domain":["B","D","M","R","O","T"],"range":["#c23b55","#2e3f52","#000000","#c23b55","#e39b30","#3f8a87"]},"legend":null}}},
  {"transform":[{"filter":"datum.k=='m'"}],"mark":{"type":"point","filled":true,"size":42,"opacity":1},"encoding":{"y":{"field":"t","type":"quantitative","scale":{"type":"log","domain":[0.0002,25.7],"nice":false},"axis":{"values":[0.001,0.01,0.1,1,10],"labels":false,"title":null,"grid":true}},"color":{"field":"s","type":"nominal","scale":{"domain":["B","D","M","R","O","T"],"range":["#c23b55","#2e3f52","#000000","#c23b55","#e39b30","#3f8a87"]},"legend":null}}},
  {"transform":[{"filter":"datum.lim=='u'"}],"mark":{"type":"point","filled":true,"opacity":1,"size":230,"shape":"M-0.12,0L0.12,0L0.12,0.7L0.65,0.7L0,2.05L-0.65,0.7L-0.12,0.7Z"},"encoding":{"y":{"field":"t","type":"quantitative","scale":{"type":"log","domain":[0.0002,25.7],"nice":false}},"color":{"field":"s","type":"nominal","scale":{"domain":["B","D","M","R","O","T"],"range":["#c23b55","#2e3f52","#000000","#c23b55","#e39b30","#3f8a87"]},"legend":null}}},
  {"transform":[{"filter":"datum.lim=='l'"}],"mark":{"type":"point","filled":true,"opacity":1,"size":330,"shape":"M-0.12,0L0.12,0L0.12,-1L0.5,-1L0,-2L-0.5,-1L-0.12,-1Z"},"encoding":{"y":{"field":"t","type":"quantitative","scale":{"type":"log","domain":[0.0002,25.7],"nice":false}},"color":{"field":"s","type":"nominal","scale":{"domain":["B","D","M","R","O","T"],"range":["#c23b55","#2e3f52","#000000","#c23b55","#e39b30","#3f8a87"]},"legend":null}}}
 ]}
],
"config": {
 "font": "Liberation Serif",
 "view": {"stroke": "#000000", "strokeWidth": 1.4},
 "axis": {"labelFont": "Liberation Serif", "labelFontSize": 17, "labelColor": "#000000", "titleFont": "Liberation Serif", "titleFontSize": 22, "titleFontWeight": "normal", "titleColor": "#000000", "tickColor": "#000000", "tickSize": 5, "domain": false, "gridColor": "#c4c4c4", "labelPadding": 2, "titlePadding": 3, "labelFlush": false, "labelOverlap": false, "labelBound": false},
 "title": {"font": "Liberation Serif", "fontSize": 19, "fontWeight": "bold", "anchor": "start", "frame": "group", "offset": -27, "dx": 9, "color": "#111111"}
}
}
